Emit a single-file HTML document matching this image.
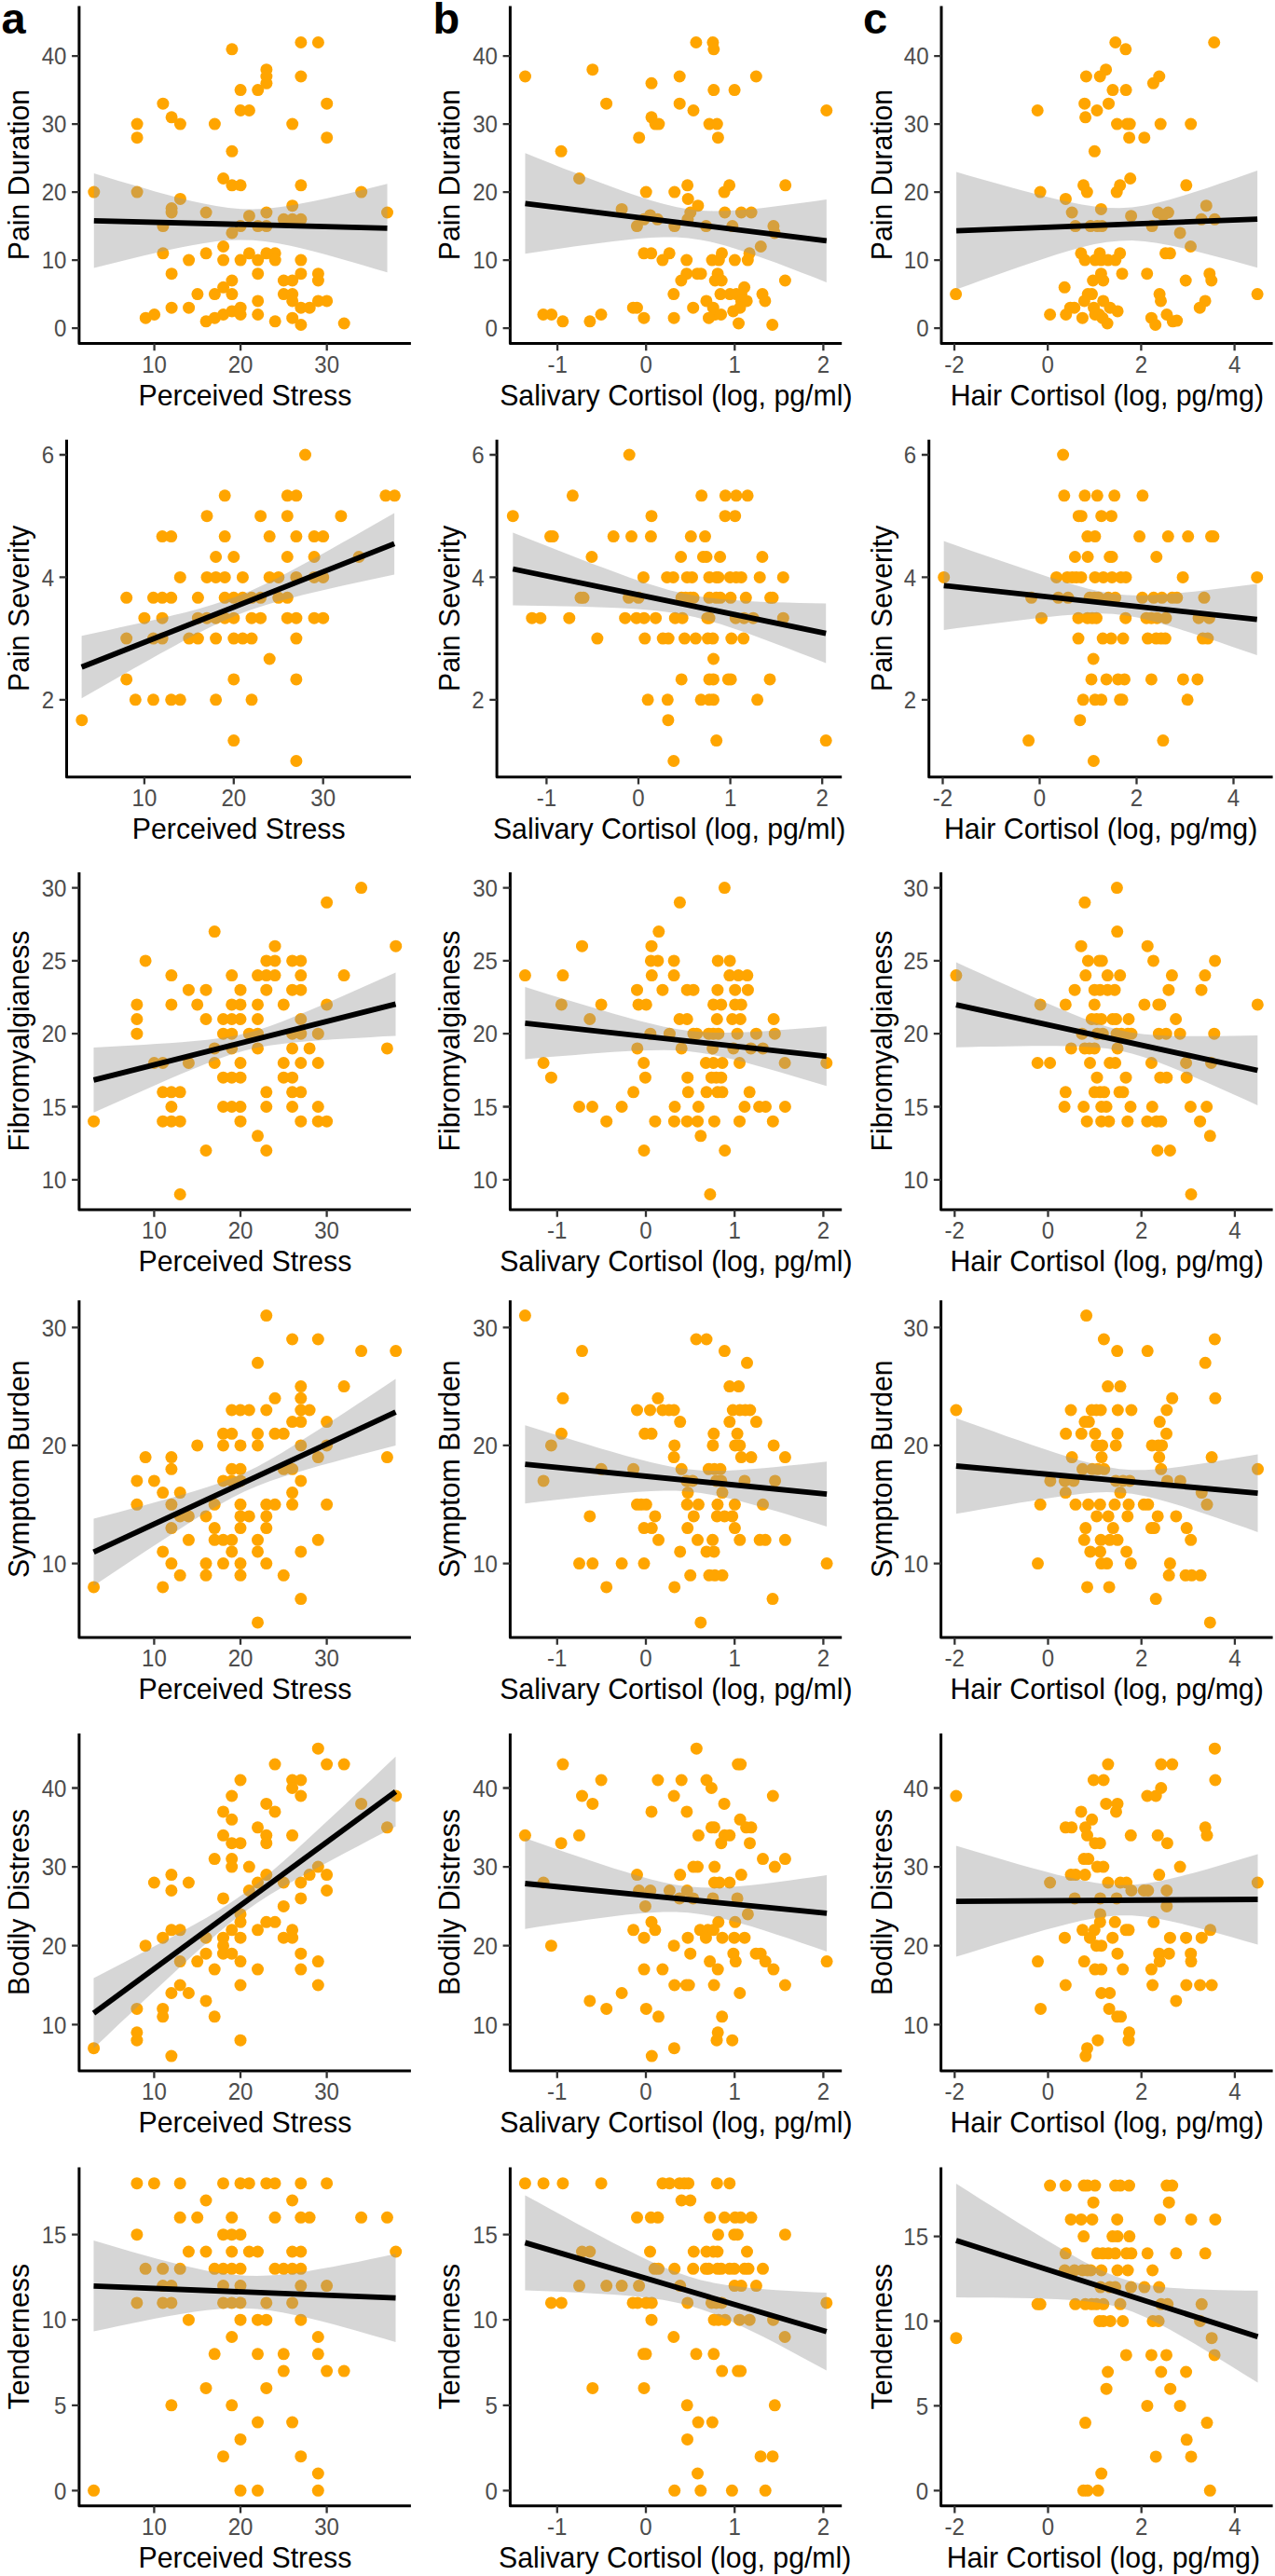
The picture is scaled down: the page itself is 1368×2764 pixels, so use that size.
<!DOCTYPE html>
<html lang="en">
<head>
<meta charset="utf-8">
<title>Figure</title>
<style>
html,body{margin:0;padding:0;background:#fff;}
body{width:1368px;height:2764px;overflow:hidden;}
svg{display:block;font-family:"Liberation Sans",sans-serif;}
</style>
</head>
<body>

<svg width="1368" height="2764" viewBox="0 0 1368 2764">
<rect width="1368" height="2764" fill="#fff"/>
<g>
<g fill="#FFA500">
<circle cx="100.8" cy="206.1" r="6.5"/>
<circle cx="147.1" cy="133.1" r="6.5"/>
<circle cx="147.1" cy="147.7" r="6.5"/>
<circle cx="147.1" cy="206.1" r="6.5"/>
<circle cx="156.3" cy="341.2" r="6.5"/>
<circle cx="165.6" cy="337.5" r="6.5"/>
<circle cx="174.9" cy="111.2" r="6.5"/>
<circle cx="174.9" cy="242.6" r="6.5"/>
<circle cx="174.9" cy="271.8" r="6.5"/>
<circle cx="184.1" cy="125.8" r="6.5"/>
<circle cx="184.1" cy="223.6" r="6.5"/>
<circle cx="184.1" cy="228" r="6.5"/>
<circle cx="184.1" cy="293.7" r="6.5"/>
<circle cx="184.1" cy="330.2" r="6.5"/>
<circle cx="193.4" cy="133.1" r="6.5"/>
<circle cx="193.4" cy="213.4" r="6.5"/>
<circle cx="202.6" cy="279.1" r="6.5"/>
<circle cx="202.6" cy="330.2" r="6.5"/>
<circle cx="211.9" cy="315.6" r="6.5"/>
<circle cx="221.1" cy="228" r="6.5"/>
<circle cx="221.1" cy="271.8" r="6.5"/>
<circle cx="221.1" cy="344.8" r="6.5"/>
<circle cx="230.4" cy="133.1" r="6.5"/>
<circle cx="230.4" cy="315.6" r="6.5"/>
<circle cx="230.4" cy="341.2" r="6.5"/>
<circle cx="239.6" cy="191.5" r="6.5"/>
<circle cx="239.6" cy="264.5" r="6.5"/>
<circle cx="239.6" cy="279.1" r="6.5"/>
<circle cx="239.6" cy="308.3" r="6.5"/>
<circle cx="239.6" cy="337.5" r="6.5"/>
<circle cx="248.9" cy="52.8" r="6.5"/>
<circle cx="248.9" cy="162.3" r="6.5"/>
<circle cx="248.9" cy="198.8" r="6.5"/>
<circle cx="248.9" cy="249.9" r="6.5"/>
<circle cx="248.9" cy="301" r="6.5"/>
<circle cx="248.9" cy="315.6" r="6.5"/>
<circle cx="248.9" cy="333.9" r="6.5"/>
<circle cx="258.1" cy="96.6" r="6.5"/>
<circle cx="258.1" cy="118.5" r="6.5"/>
<circle cx="258.1" cy="198.8" r="6.5"/>
<circle cx="258.1" cy="242.6" r="6.5"/>
<circle cx="258.1" cy="279.1" r="6.5"/>
<circle cx="258.1" cy="330.2" r="6.5"/>
<circle cx="258.1" cy="337.5" r="6.5"/>
<circle cx="267.4" cy="118.5" r="6.5"/>
<circle cx="267.4" cy="231.7" r="6.5"/>
<circle cx="267.4" cy="271.8" r="6.5"/>
<circle cx="276.7" cy="96.6" r="6.5"/>
<circle cx="276.7" cy="242.6" r="6.5"/>
<circle cx="276.7" cy="279.1" r="6.5"/>
<circle cx="276.7" cy="293.7" r="6.5"/>
<circle cx="276.7" cy="322.9" r="6.5"/>
<circle cx="276.7" cy="337.5" r="6.5"/>
<circle cx="285.9" cy="74.7" r="6.5"/>
<circle cx="285.9" cy="82" r="6.5"/>
<circle cx="285.9" cy="89.3" r="6.5"/>
<circle cx="285.9" cy="228" r="6.5"/>
<circle cx="285.9" cy="242.6" r="6.5"/>
<circle cx="285.9" cy="271.8" r="6.5"/>
<circle cx="295.2" cy="271.8" r="6.5"/>
<circle cx="295.2" cy="279.1" r="6.5"/>
<circle cx="295.2" cy="344.8" r="6.5"/>
<circle cx="304.4" cy="235.3" r="6.5"/>
<circle cx="304.4" cy="301" r="6.5"/>
<circle cx="304.4" cy="315.6" r="6.5"/>
<circle cx="313.7" cy="133.1" r="6.5"/>
<circle cx="313.7" cy="220.7" r="6.5"/>
<circle cx="313.7" cy="235.3" r="6.5"/>
<circle cx="313.7" cy="301" r="6.5"/>
<circle cx="313.7" cy="315.6" r="6.5"/>
<circle cx="313.7" cy="322.9" r="6.5"/>
<circle cx="313.7" cy="341.2" r="6.5"/>
<circle cx="322.9" cy="45.5" r="6.5"/>
<circle cx="322.9" cy="82" r="6.5"/>
<circle cx="322.9" cy="198.8" r="6.5"/>
<circle cx="322.9" cy="235.3" r="6.5"/>
<circle cx="322.9" cy="279.1" r="6.5"/>
<circle cx="322.9" cy="293.7" r="6.5"/>
<circle cx="322.9" cy="330.2" r="6.5"/>
<circle cx="322.9" cy="348.5" r="6.5"/>
<circle cx="332.2" cy="330.2" r="6.5"/>
<circle cx="341.4" cy="45.5" r="6.5"/>
<circle cx="341.4" cy="293.7" r="6.5"/>
<circle cx="341.4" cy="301" r="6.5"/>
<circle cx="341.4" cy="322.9" r="6.5"/>
<circle cx="350.7" cy="111.2" r="6.5"/>
<circle cx="350.7" cy="147.7" r="6.5"/>
<circle cx="350.7" cy="322.9" r="6.5"/>
<circle cx="369.2" cy="347" r="6.5"/>
<circle cx="387.7" cy="206.1" r="6.5"/>
<circle cx="415.5" cy="228" r="6.5"/>
</g>
<path d="M100.8 186.1 L113.9 190 L127 193.9 L140.1 197.8 L153.3 201.6 L166.4 205.4 L179.5 209 L192.6 212.4 L205.7 215.7 L218.8 218.6 L231.9 221.1 L245 223 L258.1 224.2 L271.3 224.5 L284.4 223.9 L297.5 222.6 L310.6 220.7 L323.7 218.3 L336.8 215.7 L349.9 212.9 L363 210 L376.2 206.9 L389.3 203.8 L402.4 200.5 L415.5 197.3 L415.5 292.3 L402.4 288.4 L389.3 284.5 L376.2 280.7 L363 276.9 L349.9 273.3 L336.8 269.8 L323.7 266.5 L310.6 263.6 L297.5 261 L284.4 259 L271.3 257.7 L258.1 257.4 L245 257.8 L231.9 259.1 L218.8 260.9 L205.7 263.2 L192.6 265.8 L179.5 268.6 L166.4 271.5 L153.3 274.6 L140.1 277.7 L127 280.9 L113.9 284.2 L100.8 287.5Z" fill="#999" fill-opacity="0.4"/>
<line x1="100.8" y1="236.8" x2="415.5" y2="244.8" stroke="#000" stroke-width="5.8"/>
<path d="M84.9 6.4V368.5H440.9" fill="none" stroke="#000" stroke-width="3.0" stroke-linejoin="round"/>
<path d="M165.6 368.5v7.8M258.1 368.5v7.8M350.7 368.5v7.8M84.9 352.1h-7.8M84.9 279.1h-7.8M84.9 206.1h-7.8M84.9 133.1h-7.8M84.9 60.1h-7.8" fill="none" stroke="#333" stroke-width="2.3"/>
<g font-size="26.2" fill="#4D4D4D">
<text transform="translate(165.6 399.7) scale(0.918 1)" text-anchor="middle">10</text>
<text transform="translate(258.1 399.7) scale(0.918 1)" text-anchor="middle">20</text>
<text transform="translate(350.7 399.7) scale(0.918 1)" text-anchor="middle">30</text>
<text transform="translate(71.4 361.3) scale(0.918 1)" text-anchor="end">0</text>
<text transform="translate(71.4 288.3) scale(0.918 1)" text-anchor="end">10</text>
<text transform="translate(71.4 215.3) scale(0.918 1)" text-anchor="end">20</text>
<text transform="translate(71.4 142.3) scale(0.918 1)" text-anchor="end">30</text>
<text transform="translate(71.4 69.3) scale(0.918 1)" text-anchor="end">40</text>
</g>
<text transform="translate(262.9 434.5) scale(0.943 1)" text-anchor="middle" font-size="32.1" fill="#000">Perceived Stress</text>
<text transform="translate(31 187.5) rotate(-90) scale(0.943 1)" text-anchor="middle" font-size="32.1" fill="#000">Pain Duration</text>
</g>
<g>
<g fill="#FFA500">
<circle cx="746.9" cy="45.5" r="6.5"/>
<circle cx="764.9" cy="45.5" r="6.5"/>
<circle cx="765.8" cy="52.8" r="6.5"/>
<circle cx="563.5" cy="82" r="6.5"/>
<circle cx="635.8" cy="74.7" r="6.5"/>
<circle cx="729.2" cy="82" r="6.5"/>
<circle cx="811.3" cy="82" r="6.5"/>
<circle cx="699" cy="89.3" r="6.5"/>
<circle cx="765.8" cy="96.6" r="6.5"/>
<circle cx="788.1" cy="96.6" r="6.5"/>
<circle cx="650.6" cy="111.2" r="6.5"/>
<circle cx="729.2" cy="111.2" r="6.5"/>
<circle cx="744" cy="118.5" r="6.5"/>
<circle cx="886.8" cy="118.5" r="6.5"/>
<circle cx="699" cy="125.8" r="6.5"/>
<circle cx="703.1" cy="133.1" r="6.5"/>
<circle cx="706.9" cy="133.1" r="6.5"/>
<circle cx="761.1" cy="133.1" r="6.5"/>
<circle cx="769.3" cy="133.1" r="6.5"/>
<circle cx="685.7" cy="147.7" r="6.5"/>
<circle cx="770.4" cy="147.7" r="6.5"/>
<circle cx="602.1" cy="162.3" r="6.5"/>
<circle cx="621.5" cy="191.5" r="6.5"/>
<circle cx="693.2" cy="206.1" r="6.5"/>
<circle cx="723.7" cy="206.1" r="6.5"/>
<circle cx="737.6" cy="198.8" r="6.5"/>
<circle cx="782.6" cy="198.8" r="6.5"/>
<circle cx="842.7" cy="198.8" r="6.5"/>
<circle cx="777.1" cy="206.1" r="6.5"/>
<circle cx="738.2" cy="213.4" r="6.5"/>
<circle cx="748.9" cy="220.7" r="6.5"/>
<circle cx="667.1" cy="224.4" r="6.5"/>
<circle cx="697.6" cy="230.9" r="6.5"/>
<circle cx="740.8" cy="228" r="6.5"/>
<circle cx="777.7" cy="228" r="6.5"/>
<circle cx="795.4" cy="228" r="6.5"/>
<circle cx="806.1" cy="228" r="6.5"/>
<circle cx="690.9" cy="235.3" r="6.5"/>
<circle cx="705.4" cy="235.3" r="6.5"/>
<circle cx="737.9" cy="235.3" r="6.5"/>
<circle cx="683.4" cy="242.6" r="6.5"/>
<circle cx="723.7" cy="242.6" r="6.5"/>
<circle cx="757.6" cy="242.6" r="6.5"/>
<circle cx="785.8" cy="242.6" r="6.5"/>
<circle cx="829.9" cy="242.6" r="6.5"/>
<circle cx="831.1" cy="249.9" r="6.5"/>
<circle cx="816.3" cy="264.5" r="6.5"/>
<circle cx="690.9" cy="271.8" r="6.5"/>
<circle cx="698.7" cy="271.8" r="6.5"/>
<circle cx="718.2" cy="271.8" r="6.5"/>
<circle cx="774.5" cy="271.8" r="6.5"/>
<circle cx="804.1" cy="271.8" r="6.5"/>
<circle cx="710.9" cy="279.1" r="6.5"/>
<circle cx="736.7" cy="279.1" r="6.5"/>
<circle cx="764" cy="279.1" r="6.5"/>
<circle cx="771.3" cy="279.1" r="6.5"/>
<circle cx="788.4" cy="279.1" r="6.5"/>
<circle cx="802.3" cy="279.1" r="6.5"/>
<circle cx="736.7" cy="293.7" r="6.5"/>
<circle cx="748.1" cy="293.7" r="6.5"/>
<circle cx="752.1" cy="293.7" r="6.5"/>
<circle cx="770.1" cy="293.7" r="6.5"/>
<circle cx="730.9" cy="301" r="6.5"/>
<circle cx="767.2" cy="301" r="6.5"/>
<circle cx="774.2" cy="301" r="6.5"/>
<circle cx="842.4" cy="301" r="6.5"/>
<circle cx="798.6" cy="308.3" r="6.5"/>
<circle cx="722.8" cy="315.6" r="6.5"/>
<circle cx="773" cy="315.6" r="6.5"/>
<circle cx="783.2" cy="315.6" r="6.5"/>
<circle cx="790.1" cy="315.6" r="6.5"/>
<circle cx="795.4" cy="315.6" r="6.5"/>
<circle cx="818" cy="315.6" r="6.5"/>
<circle cx="757.9" cy="322.9" r="6.5"/>
<circle cx="795.4" cy="322.9" r="6.5"/>
<circle cx="801.2" cy="322.9" r="6.5"/>
<circle cx="820.9" cy="322.9" r="6.5"/>
<circle cx="679.3" cy="330.2" r="6.5"/>
<circle cx="683.4" cy="330.2" r="6.5"/>
<circle cx="743.7" cy="330.2" r="6.5"/>
<circle cx="765.2" cy="330.2" r="6.5"/>
<circle cx="793.9" cy="330.2" r="6.5"/>
<circle cx="786.7" cy="333.9" r="6.5"/>
<circle cx="582.9" cy="337.5" r="6.5"/>
<circle cx="591.7" cy="337.5" r="6.5"/>
<circle cx="645" cy="337.5" r="6.5"/>
<circle cx="767.2" cy="337.5" r="6.5"/>
<circle cx="773.6" cy="337.5" r="6.5"/>
<circle cx="690.9" cy="341.2" r="6.5"/>
<circle cx="723.1" cy="341.2" r="6.5"/>
<circle cx="760.5" cy="341.2" r="6.5"/>
<circle cx="603.8" cy="344.8" r="6.5"/>
<circle cx="632.9" cy="344.8" r="6.5"/>
<circle cx="792.5" cy="347" r="6.5"/>
<circle cx="828.7" cy="348.5" r="6.5"/>
</g>
<path d="M563.5 164.3 L577 169.7 L590.4 175 L603.9 180.4 L617.4 185.6 L630.9 190.9 L644.3 196 L657.8 201 L671.3 205.9 L684.7 210.6 L698.2 214.9 L711.7 218.8 L725.1 222.1 L738.6 224.5 L752.1 225.9 L765.6 226.5 L779 226.3 L792.5 225.5 L806 224.4 L819.4 222.9 L832.9 221.3 L846.4 219.6 L859.9 217.8 L873.3 215.9 L886.8 213.9 L886.8 302.9 L873.3 297.6 L859.9 292.4 L846.4 287.2 L832.9 282.1 L819.4 277.2 L806 272.4 L792.5 267.9 L779 263.8 L765.6 260.2 L752.1 257.4 L738.6 255.6 L725.1 254.6 L711.7 254.6 L698.2 255.1 L684.7 256.1 L671.3 257.4 L657.8 259 L644.3 260.7 L630.9 262.4 L617.4 264.3 L603.9 266.3 L590.4 268.2 L577 270.3 L563.5 272.3Z" fill="#999" fill-opacity="0.4"/>
<line x1="563.5" y1="218.3" x2="886.8" y2="258.4" stroke="#000" stroke-width="5.8"/>
<path d="M547.4 6.4V368.5H903.2" fill="none" stroke="#000" stroke-width="3.0" stroke-linejoin="round"/>
<path d="M598.1 368.5v7.8M693.2 368.5v7.8M788.3 368.5v7.8M883.4 368.5v7.8M547.4 352.1h-7.8M547.4 279.1h-7.8M547.4 206.1h-7.8M547.4 133.1h-7.8M547.4 60.1h-7.8" fill="none" stroke="#333" stroke-width="2.3"/>
<g font-size="26.2" fill="#4D4D4D">
<text transform="translate(598.1 399.7) scale(0.918 1)" text-anchor="middle">-1</text>
<text transform="translate(693.2 399.7) scale(0.918 1)" text-anchor="middle">0</text>
<text transform="translate(788.3 399.7) scale(0.918 1)" text-anchor="middle">1</text>
<text transform="translate(883.4 399.7) scale(0.918 1)" text-anchor="middle">2</text>
<text transform="translate(533.9 361.3) scale(0.918 1)" text-anchor="end">0</text>
<text transform="translate(533.9 288.3) scale(0.918 1)" text-anchor="end">10</text>
<text transform="translate(533.9 215.3) scale(0.918 1)" text-anchor="end">20</text>
<text transform="translate(533.9 142.3) scale(0.918 1)" text-anchor="end">30</text>
<text transform="translate(533.9 69.3) scale(0.918 1)" text-anchor="end">40</text>
</g>
<text transform="translate(725.3 434.5) scale(0.943 1)" text-anchor="middle" font-size="32.1" fill="#000">Salivary Cortisol (log, pg/ml)</text>
<text transform="translate(492.6 187.5) rotate(-90) scale(0.943 1)" text-anchor="middle" font-size="32.1" fill="#000">Pain Duration</text>
</g>
<g>
<g fill="#FFA500">
<circle cx="1196.8" cy="45.5" r="6.5"/>
<circle cx="1207.8" cy="52.8" r="6.5"/>
<circle cx="1302.7" cy="45.5" r="6.5"/>
<circle cx="1186.6" cy="74.7" r="6.5"/>
<circle cx="1165.4" cy="82" r="6.5"/>
<circle cx="1180.2" cy="82" r="6.5"/>
<circle cx="1243.8" cy="82" r="6.5"/>
<circle cx="1237.4" cy="89.3" r="6.5"/>
<circle cx="1193.9" cy="96.6" r="6.5"/>
<circle cx="1208.1" cy="96.6" r="6.5"/>
<circle cx="1163.7" cy="111.2" r="6.5"/>
<circle cx="1189.5" cy="111.2" r="6.5"/>
<circle cx="1113.2" cy="118.5" r="6.5"/>
<circle cx="1177" cy="118.5" r="6.5"/>
<circle cx="1164.6" cy="125.8" r="6.5"/>
<circle cx="1198.5" cy="133.1" r="6.5"/>
<circle cx="1209.3" cy="133.1" r="6.5"/>
<circle cx="1212.2" cy="133.1" r="6.5"/>
<circle cx="1245.2" cy="133.1" r="6.5"/>
<circle cx="1277.7" cy="133.1" r="6.5"/>
<circle cx="1211.6" cy="147.7" r="6.5"/>
<circle cx="1227.8" cy="147.7" r="6.5"/>
<circle cx="1174.4" cy="162.3" r="6.5"/>
<circle cx="1212.7" cy="191.5" r="6.5"/>
<circle cx="1162.5" cy="198.8" r="6.5"/>
<circle cx="1201.7" cy="198.8" r="6.5"/>
<circle cx="1272.8" cy="198.8" r="6.5"/>
<circle cx="1116.1" cy="206.1" r="6.5"/>
<circle cx="1166.3" cy="206.1" r="6.5"/>
<circle cx="1198.2" cy="206.1" r="6.5"/>
<circle cx="1143.4" cy="213.4" r="6.5"/>
<circle cx="1294.3" cy="220.7" r="6.5"/>
<circle cx="1150.1" cy="228" r="6.5"/>
<circle cx="1181.4" cy="224.4" r="6.5"/>
<circle cx="1213.6" cy="231.7" r="6.5"/>
<circle cx="1242.6" cy="228" r="6.5"/>
<circle cx="1253.4" cy="228" r="6.5"/>
<circle cx="1248.1" cy="230.9" r="6.5"/>
<circle cx="1289.1" cy="235.3" r="6.5"/>
<circle cx="1303.3" cy="235.3" r="6.5"/>
<circle cx="1153.8" cy="242.6" r="6.5"/>
<circle cx="1170.1" cy="242.6" r="6.5"/>
<circle cx="1177.3" cy="242.6" r="6.5"/>
<circle cx="1182.3" cy="242.6" r="6.5"/>
<circle cx="1236" cy="242.6" r="6.5"/>
<circle cx="1266.1" cy="249.9" r="6.5"/>
<circle cx="1277.5" cy="264.5" r="6.5"/>
<circle cx="1159.9" cy="271.8" r="6.5"/>
<circle cx="1180" cy="271.8" r="6.5"/>
<circle cx="1201.7" cy="271.8" r="6.5"/>
<circle cx="1250.5" cy="271.8" r="6.5"/>
<circle cx="1255.4" cy="271.8" r="6.5"/>
<circle cx="1164" cy="279.1" r="6.5"/>
<circle cx="1175" cy="279.1" r="6.5"/>
<circle cx="1181.4" cy="279.1" r="6.5"/>
<circle cx="1188.9" cy="279.1" r="6.5"/>
<circle cx="1196.8" cy="279.1" r="6.5"/>
<circle cx="1181.4" cy="293.7" r="6.5"/>
<circle cx="1204" cy="293.7" r="6.5"/>
<circle cx="1230.7" cy="293.7" r="6.5"/>
<circle cx="1297.8" cy="293.7" r="6.5"/>
<circle cx="1172.7" cy="301" r="6.5"/>
<circle cx="1183.7" cy="301" r="6.5"/>
<circle cx="1272.2" cy="301" r="6.5"/>
<circle cx="1299.8" cy="301" r="6.5"/>
<circle cx="1142.2" cy="308.3" r="6.5"/>
<circle cx="1025.6" cy="315.6" r="6.5"/>
<circle cx="1167.2" cy="315.6" r="6.5"/>
<circle cx="1171.5" cy="315.6" r="6.5"/>
<circle cx="1244.1" cy="315.6" r="6.5"/>
<circle cx="1349.1" cy="315.6" r="6.5"/>
<circle cx="1163.4" cy="322.9" r="6.5"/>
<circle cx="1183.7" cy="322.9" r="6.5"/>
<circle cx="1245.5" cy="322.9" r="6.5"/>
<circle cx="1293.1" cy="322.9" r="6.5"/>
<circle cx="1148.3" cy="330.2" r="6.5"/>
<circle cx="1152.7" cy="330.2" r="6.5"/>
<circle cx="1173.6" cy="330.2" r="6.5"/>
<circle cx="1191" cy="330.2" r="6.5"/>
<circle cx="1287.3" cy="330.2" r="6.5"/>
<circle cx="1199.1" cy="333.9" r="6.5"/>
<circle cx="1126.6" cy="337.5" r="6.5"/>
<circle cx="1143.7" cy="337.5" r="6.5"/>
<circle cx="1175" cy="337.5" r="6.5"/>
<circle cx="1179.4" cy="337.5" r="6.5"/>
<circle cx="1251.9" cy="337.5" r="6.5"/>
<circle cx="1161.4" cy="341.2" r="6.5"/>
<circle cx="1182.9" cy="341.2" r="6.5"/>
<circle cx="1235.4" cy="341.2" r="6.5"/>
<circle cx="1258.3" cy="344.8" r="6.5"/>
<circle cx="1262.7" cy="344.1" r="6.5"/>
<circle cx="1188.1" cy="347" r="6.5"/>
<circle cx="1239.7" cy="348.5" r="6.5"/>
</g>
<path d="M1026.1 184.6 L1039.6 188.5 L1053 192.3 L1066.5 196.1 L1079.9 199.8 L1093.4 203.5 L1106.8 207 L1120.3 210.5 L1133.8 213.8 L1147.2 216.8 L1160.7 219.5 L1174.1 221.6 L1187.6 223 L1201.1 223.3 L1214.5 222.5 L1228 220.5 L1241.4 217.7 L1254.9 214.2 L1268.3 210.3 L1281.8 206.1 L1295.3 201.7 L1308.7 197.1 L1322.2 192.4 L1335.6 187.7 L1349.1 182.9 L1349.1 287.3 L1335.6 283.5 L1322.2 279.8 L1308.7 276.2 L1295.3 272.7 L1281.8 269.3 L1268.3 266.1 L1254.9 263.3 L1241.4 260.8 L1228 259 L1214.5 258.1 L1201.1 258.4 L1187.6 259.7 L1174.1 262.1 L1160.7 265.3 L1147.2 269 L1133.8 273.1 L1120.3 277.4 L1106.8 281.9 L1093.4 286.5 L1079.9 291.2 L1066.5 296 L1053 300.8 L1039.6 305.7 L1026.1 310.6Z" fill="#999" fill-opacity="0.4"/>
<line x1="1026.1" y1="247.6" x2="1349.1" y2="235.1" stroke="#000" stroke-width="5.8"/>
<path d="M1010 6.4V368.5H1365.6" fill="none" stroke="#000" stroke-width="3.0" stroke-linejoin="round"/>
<path d="M1024 368.5v7.8M1124.2 368.5v7.8M1224.4 368.5v7.8M1324.6 368.5v7.8M1010 352.1h-7.8M1010 279.1h-7.8M1010 206.1h-7.8M1010 133.1h-7.8M1010 60.1h-7.8" fill="none" stroke="#333" stroke-width="2.3"/>
<g font-size="26.2" fill="#4D4D4D">
<text transform="translate(1024 399.7) scale(0.918 1)" text-anchor="middle">-2</text>
<text transform="translate(1124.2 399.7) scale(0.918 1)" text-anchor="middle">0</text>
<text transform="translate(1224.4 399.7) scale(0.918 1)" text-anchor="middle">2</text>
<text transform="translate(1324.6 399.7) scale(0.918 1)" text-anchor="middle">4</text>
<text transform="translate(996.5 361.3) scale(0.918 1)" text-anchor="end">0</text>
<text transform="translate(996.5 288.3) scale(0.918 1)" text-anchor="end">10</text>
<text transform="translate(996.5 215.3) scale(0.918 1)" text-anchor="end">20</text>
<text transform="translate(996.5 142.3) scale(0.918 1)" text-anchor="end">30</text>
<text transform="translate(996.5 69.3) scale(0.918 1)" text-anchor="end">40</text>
</g>
<text transform="translate(1187.8 434.5) scale(0.943 1)" text-anchor="middle" font-size="32.1" fill="#000">Hair Cortisol (log, pg/mg)</text>
<text transform="translate(956.5 187.5) rotate(-90) scale(0.943 1)" text-anchor="middle" font-size="32.1" fill="#000">Pain Duration</text>
</g>
<g>
<g fill="#FFA500">
<circle cx="327.5" cy="488" r="6.5"/>
<circle cx="241.2" cy="531.8" r="6.5"/>
<circle cx="308.3" cy="531.8" r="6.5"/>
<circle cx="317.9" cy="531.8" r="6.5"/>
<circle cx="413.8" cy="531.8" r="6.5"/>
<circle cx="423.4" cy="531.8" r="6.5"/>
<circle cx="222" cy="553.7" r="6.5"/>
<circle cx="279.6" cy="553.7" r="6.5"/>
<circle cx="308.3" cy="553.7" r="6.5"/>
<circle cx="365.9" cy="553.7" r="6.5"/>
<circle cx="174.1" cy="575.6" r="6.5"/>
<circle cx="183.7" cy="575.6" r="6.5"/>
<circle cx="241.2" cy="575.6" r="6.5"/>
<circle cx="289.2" cy="575.6" r="6.5"/>
<circle cx="317.9" cy="575.6" r="6.5"/>
<circle cx="337.1" cy="575.6" r="6.5"/>
<circle cx="346.7" cy="575.6" r="6.5"/>
<circle cx="231.6" cy="597.5" r="6.5"/>
<circle cx="250.8" cy="597.5" r="6.5"/>
<circle cx="308.3" cy="597.5" r="6.5"/>
<circle cx="337.1" cy="597.5" r="6.5"/>
<circle cx="385.1" cy="597.5" r="6.5"/>
<circle cx="193.3" cy="619.4" r="6.5"/>
<circle cx="222" cy="619.4" r="6.5"/>
<circle cx="231.6" cy="619.4" r="6.5"/>
<circle cx="241.2" cy="619.4" r="6.5"/>
<circle cx="260.4" cy="619.4" r="6.5"/>
<circle cx="289.2" cy="619.4" r="6.5"/>
<circle cx="298.8" cy="619.4" r="6.5"/>
<circle cx="317.9" cy="619.4" r="6.5"/>
<circle cx="337.1" cy="619.4" r="6.5"/>
<circle cx="346.7" cy="619.4" r="6.5"/>
<circle cx="135.7" cy="641.3" r="6.5"/>
<circle cx="164.5" cy="641.3" r="6.5"/>
<circle cx="174.1" cy="641.3" r="6.5"/>
<circle cx="183.7" cy="641.3" r="6.5"/>
<circle cx="212.4" cy="641.3" r="6.5"/>
<circle cx="241.2" cy="641.3" r="6.5"/>
<circle cx="250.8" cy="641.3" r="6.5"/>
<circle cx="260.4" cy="641.3" r="6.5"/>
<circle cx="270" cy="641.3" r="6.5"/>
<circle cx="279.6" cy="641.3" r="6.5"/>
<circle cx="298.8" cy="641.3" r="6.5"/>
<circle cx="308.3" cy="641.3" r="6.5"/>
<circle cx="154.9" cy="663.2" r="6.5"/>
<circle cx="174.1" cy="663.2" r="6.5"/>
<circle cx="212.4" cy="663.2" r="6.5"/>
<circle cx="222" cy="663.2" r="6.5"/>
<circle cx="231.6" cy="663.2" r="6.5"/>
<circle cx="241.2" cy="663.2" r="6.5"/>
<circle cx="250.8" cy="663.2" r="6.5"/>
<circle cx="270" cy="663.2" r="6.5"/>
<circle cx="279.6" cy="663.2" r="6.5"/>
<circle cx="308.3" cy="663.2" r="6.5"/>
<circle cx="317.9" cy="663.2" r="6.5"/>
<circle cx="337.1" cy="663.2" r="6.5"/>
<circle cx="346.7" cy="663.2" r="6.5"/>
<circle cx="135.7" cy="685.1" r="6.5"/>
<circle cx="164.5" cy="685.1" r="6.5"/>
<circle cx="174.1" cy="685.1" r="6.5"/>
<circle cx="202.9" cy="685.1" r="6.5"/>
<circle cx="212.4" cy="685.1" r="6.5"/>
<circle cx="231.6" cy="685.1" r="6.5"/>
<circle cx="250.8" cy="685.1" r="6.5"/>
<circle cx="260.4" cy="685.1" r="6.5"/>
<circle cx="270" cy="685.1" r="6.5"/>
<circle cx="317.9" cy="685.1" r="6.5"/>
<circle cx="289.2" cy="707" r="6.5"/>
<circle cx="135.7" cy="728.9" r="6.5"/>
<circle cx="250.8" cy="728.9" r="6.5"/>
<circle cx="317.9" cy="728.9" r="6.5"/>
<circle cx="145.3" cy="750.8" r="6.5"/>
<circle cx="164.5" cy="750.8" r="6.5"/>
<circle cx="183.7" cy="750.8" r="6.5"/>
<circle cx="193.3" cy="750.8" r="6.5"/>
<circle cx="231.6" cy="750.8" r="6.5"/>
<circle cx="270" cy="750.8" r="6.5"/>
<circle cx="87.8" cy="772.7" r="6.5"/>
<circle cx="250.8" cy="794.6" r="6.5"/>
<circle cx="317.9" cy="816.5" r="6.5"/>
</g>
<path d="M87.6 682.2 L101.6 679.2 L115.6 676.2 L129.5 673.1 L143.5 670 L157.5 666.9 L171.5 663.7 L185.5 660.3 L199.4 656.9 L213.4 653.2 L227.4 649.1 L241.4 644.6 L255.3 639.5 L269.3 633.8 L283.3 627.3 L297.3 620.4 L311.3 613.1 L325.2 605.6 L339.2 598 L353.2 590.2 L367.2 582.3 L381.2 574.4 L395.1 566.4 L409.1 558.4 L423.1 550.4 L423.1 616.4 L409.1 619.4 L395.1 622.4 L381.2 625.5 L367.2 628.6 L353.2 631.8 L339.2 635 L325.2 638.3 L311.3 641.9 L297.3 645.6 L283.3 649.7 L269.3 654.3 L255.3 659.6 L241.4 665.5 L227.4 672 L213.4 679 L199.4 686.3 L185.5 693.9 L171.5 701.6 L157.5 709.4 L143.5 717.3 L129.5 725.2 L115.6 733.2 L101.6 741.2 L87.6 749.2Z" fill="#999" fill-opacity="0.4"/>
<line x1="87.6" y1="715.7" x2="423.1" y2="583.4" stroke="#000" stroke-width="5.8"/>
<path d="M71.5 471.7V833.7H440.9" fill="none" stroke="#000" stroke-width="3.0" stroke-linejoin="round"/>
<path d="M154.9 833.7v7.8M250.8 833.7v7.8M346.7 833.7v7.8M71.5 750.8h-7.8M71.5 619.4h-7.8M71.5 488h-7.8" fill="none" stroke="#333" stroke-width="2.3"/>
<g font-size="26.2" fill="#4D4D4D">
<text transform="translate(154.9 864.9) scale(0.918 1)" text-anchor="middle">10</text>
<text transform="translate(250.8 864.9) scale(0.918 1)" text-anchor="middle">20</text>
<text transform="translate(346.7 864.9) scale(0.918 1)" text-anchor="middle">30</text>
<text transform="translate(58 760) scale(0.918 1)" text-anchor="end">2</text>
<text transform="translate(58 628.6) scale(0.918 1)" text-anchor="end">4</text>
<text transform="translate(58 497.2) scale(0.918 1)" text-anchor="end">6</text>
</g>
<text transform="translate(256.2 899.7) scale(0.943 1)" text-anchor="middle" font-size="32.1" fill="#000">Perceived Stress</text>
<text transform="translate(31 652.8) rotate(-90) scale(0.943 1)" text-anchor="middle" font-size="32.1" fill="#000">Pain Severity</text>
</g>
<g>
<g fill="#FFA500">
<circle cx="675.2" cy="488" r="6.5"/>
<circle cx="614.4" cy="531.8" r="6.5"/>
<circle cx="752.7" cy="531.8" r="6.5"/>
<circle cx="778.3" cy="531.8" r="6.5"/>
<circle cx="789.9" cy="531.8" r="6.5"/>
<circle cx="802.1" cy="531.8" r="6.5"/>
<circle cx="550.3" cy="553.7" r="6.5"/>
<circle cx="699" cy="553.7" r="6.5"/>
<circle cx="778" cy="553.7" r="6.5"/>
<circle cx="788.7" cy="553.7" r="6.5"/>
<circle cx="590.5" cy="575.6" r="6.5"/>
<circle cx="593.2" cy="575.6" r="6.5"/>
<circle cx="658.2" cy="575.6" r="6.5"/>
<circle cx="677.5" cy="575.6" r="6.5"/>
<circle cx="698.4" cy="575.6" r="6.5"/>
<circle cx="741.3" cy="575.6" r="6.5"/>
<circle cx="756.5" cy="575.6" r="6.5"/>
<circle cx="634.9" cy="597.5" r="6.5"/>
<circle cx="730.6" cy="597.5" r="6.5"/>
<circle cx="754.4" cy="597.5" r="6.5"/>
<circle cx="758" cy="597.5" r="6.5"/>
<circle cx="772.6" cy="597.5" r="6.5"/>
<circle cx="817.9" cy="597.5" r="6.5"/>
<circle cx="690.4" cy="619.4" r="6.5"/>
<circle cx="715.7" cy="619.4" r="6.5"/>
<circle cx="722.3" cy="619.4" r="6.5"/>
<circle cx="737.2" cy="619.4" r="6.5"/>
<circle cx="742.5" cy="619.4" r="6.5"/>
<circle cx="761" cy="619.4" r="6.5"/>
<circle cx="768.5" cy="619.4" r="6.5"/>
<circle cx="770.8" cy="619.4" r="6.5"/>
<circle cx="783.4" cy="619.4" r="6.5"/>
<circle cx="789.9" cy="619.4" r="6.5"/>
<circle cx="795.3" cy="619.4" r="6.5"/>
<circle cx="815.2" cy="619.4" r="6.5"/>
<circle cx="840.3" cy="619.4" r="6.5"/>
<circle cx="623" cy="641.3" r="6.5"/>
<circle cx="626" cy="641.3" r="6.5"/>
<circle cx="674.6" cy="641.3" r="6.5"/>
<circle cx="685" cy="641.3" r="6.5"/>
<circle cx="731.2" cy="641.3" r="6.5"/>
<circle cx="735.7" cy="641.3" r="6.5"/>
<circle cx="741" cy="641.3" r="6.5"/>
<circle cx="744" cy="641.3" r="6.5"/>
<circle cx="761" cy="641.3" r="6.5"/>
<circle cx="768.5" cy="641.3" r="6.5"/>
<circle cx="772.9" cy="641.3" r="6.5"/>
<circle cx="783.9" cy="641.3" r="6.5"/>
<circle cx="800.3" cy="641.3" r="6.5"/>
<circle cx="826.6" cy="641.3" r="6.5"/>
<circle cx="829" cy="641.3" r="6.5"/>
<circle cx="570.8" cy="663.2" r="6.5"/>
<circle cx="579.8" cy="663.2" r="6.5"/>
<circle cx="610.8" cy="663.2" r="6.5"/>
<circle cx="670.7" cy="663.2" r="6.5"/>
<circle cx="682.9" cy="663.2" r="6.5"/>
<circle cx="691" cy="663.2" r="6.5"/>
<circle cx="703.5" cy="663.2" r="6.5"/>
<circle cx="724.3" cy="663.2" r="6.5"/>
<circle cx="732.1" cy="663.2" r="6.5"/>
<circle cx="758.9" cy="663.2" r="6.5"/>
<circle cx="761" cy="663.2" r="6.5"/>
<circle cx="789.3" cy="663.2" r="6.5"/>
<circle cx="798.3" cy="663.2" r="6.5"/>
<circle cx="808.1" cy="663.2" r="6.5"/>
<circle cx="840.3" cy="663.2" r="6.5"/>
<circle cx="640.9" cy="685.1" r="6.5"/>
<circle cx="691.8" cy="685.1" r="6.5"/>
<circle cx="711.2" cy="685.1" r="6.5"/>
<circle cx="717.2" cy="685.1" r="6.5"/>
<circle cx="734.5" cy="685.1" r="6.5"/>
<circle cx="746.4" cy="685.1" r="6.5"/>
<circle cx="759.5" cy="685.1" r="6.5"/>
<circle cx="764.9" cy="685.1" r="6.5"/>
<circle cx="784.8" cy="685.1" r="6.5"/>
<circle cx="797.7" cy="685.1" r="6.5"/>
<circle cx="765.5" cy="707" r="6.5"/>
<circle cx="731.2" cy="728.9" r="6.5"/>
<circle cx="761" cy="728.9" r="6.5"/>
<circle cx="765.5" cy="728.9" r="6.5"/>
<circle cx="781.3" cy="728.9" r="6.5"/>
<circle cx="784.2" cy="728.9" r="6.5"/>
<circle cx="826" cy="728.9" r="6.5"/>
<circle cx="695.1" cy="750.8" r="6.5"/>
<circle cx="716.3" cy="750.8" r="6.5"/>
<circle cx="752.1" cy="750.8" r="6.5"/>
<circle cx="761" cy="750.8" r="6.5"/>
<circle cx="765.5" cy="750.8" r="6.5"/>
<circle cx="812.6" cy="750.8" r="6.5"/>
<circle cx="716.9" cy="772.7" r="6.5"/>
<circle cx="768.7" cy="794.6" r="6.5"/>
<circle cx="886.2" cy="794.6" r="6.5"/>
<circle cx="722.8" cy="816.5" r="6.5"/>
</g>
<path d="M550.3 571.5 L564.3 577.1 L578.3 582.6 L592.3 588.1 L606.3 593.6 L620.3 599 L634.3 604.4 L648.3 609.6 L662.3 614.8 L676.3 619.9 L690.3 624.7 L704.3 629.1 L718.2 633.2 L732.2 636.6 L746.2 639.3 L760.2 641.4 L774.2 643 L788.2 644.1 L802.2 645 L816.2 645.7 L830.2 646.2 L844.2 646.6 L858.2 647 L872.2 647.3 L886.2 647.6 L886.2 711.6 L872.2 706.1 L858.2 700.7 L844.2 695.3 L830.2 690 L816.2 684.7 L802.2 679.6 L788.2 674.7 L774.2 670.1 L760.2 665.9 L746.2 662.3 L732.2 659.3 L718.2 656.9 L704.3 655.2 L690.3 653.9 L676.3 653 L662.3 652.2 L648.3 651.7 L634.3 651.2 L620.3 650.8 L606.3 650.5 L592.3 650.2 L578.3 649.9 L564.3 649.7 L550.3 649.5Z" fill="#999" fill-opacity="0.4"/>
<line x1="550.3" y1="610.5" x2="886.2" y2="679.6" stroke="#000" stroke-width="5.8"/>
<path d="M533.1 471.7V833.7H903.2" fill="none" stroke="#000" stroke-width="3.0" stroke-linejoin="round"/>
<path d="M586.4 833.7v7.8M685 833.7v7.8M783.6 833.7v7.8M882.2 833.7v7.8M533.1 750.8h-7.8M533.1 619.4h-7.8M533.1 488h-7.8" fill="none" stroke="#333" stroke-width="2.3"/>
<g font-size="26.2" fill="#4D4D4D">
<text transform="translate(586.4 864.9) scale(0.918 1)" text-anchor="middle">-1</text>
<text transform="translate(685 864.9) scale(0.918 1)" text-anchor="middle">0</text>
<text transform="translate(783.6 864.9) scale(0.918 1)" text-anchor="middle">1</text>
<text transform="translate(882.2 864.9) scale(0.918 1)" text-anchor="middle">2</text>
<text transform="translate(519.6 760) scale(0.918 1)" text-anchor="end">2</text>
<text transform="translate(519.6 628.6) scale(0.918 1)" text-anchor="end">4</text>
<text transform="translate(519.6 497.2) scale(0.918 1)" text-anchor="end">6</text>
</g>
<text transform="translate(718.1 899.7) scale(0.943 1)" text-anchor="middle" font-size="32.1" fill="#000">Salivary Cortisol (log, pg/ml)</text>
<text transform="translate(492.6 652.8) rotate(-90) scale(0.943 1)" text-anchor="middle" font-size="32.1" fill="#000">Pain Severity</text>
</g>
<g>
<g fill="#FFA500">
<circle cx="1140.6" cy="488" r="6.5"/>
<circle cx="1141.8" cy="531.8" r="6.5"/>
<circle cx="1163.9" cy="531.8" r="6.5"/>
<circle cx="1177.3" cy="531.8" r="6.5"/>
<circle cx="1195.7" cy="531.8" r="6.5"/>
<circle cx="1225.9" cy="531.8" r="6.5"/>
<circle cx="1157.3" cy="553.7" r="6.5"/>
<circle cx="1160.3" cy="553.7" r="6.5"/>
<circle cx="1181.7" cy="553.7" r="6.5"/>
<circle cx="1192.5" cy="553.7" r="6.5"/>
<circle cx="1166.8" cy="575.6" r="6.5"/>
<circle cx="1174.9" cy="575.6" r="6.5"/>
<circle cx="1222.6" cy="575.6" r="6.5"/>
<circle cx="1253.3" cy="575.6" r="6.5"/>
<circle cx="1274.7" cy="575.6" r="6.5"/>
<circle cx="1299.5" cy="575.6" r="6.5"/>
<circle cx="1301.9" cy="575.6" r="6.5"/>
<circle cx="1153.4" cy="597.5" r="6.5"/>
<circle cx="1167.1" cy="597.5" r="6.5"/>
<circle cx="1190.7" cy="597.5" r="6.5"/>
<circle cx="1193.1" cy="597.5" r="6.5"/>
<circle cx="1240.8" cy="597.5" r="6.5"/>
<circle cx="1012.7" cy="619.4" r="6.5"/>
<circle cx="1133.5" cy="619.4" r="6.5"/>
<circle cx="1145.1" cy="619.4" r="6.5"/>
<circle cx="1150.4" cy="619.4" r="6.5"/>
<circle cx="1154.9" cy="619.4" r="6.5"/>
<circle cx="1160" cy="619.4" r="6.5"/>
<circle cx="1174.9" cy="619.4" r="6.5"/>
<circle cx="1183.8" cy="619.4" r="6.5"/>
<circle cx="1193.1" cy="619.4" r="6.5"/>
<circle cx="1202.6" cy="619.4" r="6.5"/>
<circle cx="1208" cy="619.4" r="6.5"/>
<circle cx="1269.1" cy="619.4" r="6.5"/>
<circle cx="1348.7" cy="619.4" r="6.5"/>
<circle cx="1106.6" cy="641.3" r="6.5"/>
<circle cx="1135.5" cy="641.3" r="6.5"/>
<circle cx="1146" cy="641.3" r="6.5"/>
<circle cx="1169.2" cy="641.3" r="6.5"/>
<circle cx="1174.3" cy="641.3" r="6.5"/>
<circle cx="1178.8" cy="641.3" r="6.5"/>
<circle cx="1189.2" cy="641.3" r="6.5"/>
<circle cx="1196.6" cy="641.3" r="6.5"/>
<circle cx="1225.6" cy="641.3" r="6.5"/>
<circle cx="1237.8" cy="641.3" r="6.5"/>
<circle cx="1246.7" cy="641.3" r="6.5"/>
<circle cx="1257.7" cy="641.3" r="6.5"/>
<circle cx="1262.8" cy="641.3" r="6.5"/>
<circle cx="1292" cy="641.3" r="6.5"/>
<circle cx="1117.4" cy="663.2" r="6.5"/>
<circle cx="1157" cy="663.2" r="6.5"/>
<circle cx="1166.8" cy="663.2" r="6.5"/>
<circle cx="1171.9" cy="663.2" r="6.5"/>
<circle cx="1176.4" cy="663.2" r="6.5"/>
<circle cx="1207.7" cy="663.2" r="6.5"/>
<circle cx="1230" cy="663.2" r="6.5"/>
<circle cx="1235.4" cy="663.2" r="6.5"/>
<circle cx="1241.4" cy="663.2" r="6.5"/>
<circle cx="1250.9" cy="663.2" r="6.5"/>
<circle cx="1286.1" cy="663.2" r="6.5"/>
<circle cx="1297.4" cy="663.2" r="6.5"/>
<circle cx="1157" cy="685.1" r="6.5"/>
<circle cx="1183.2" cy="685.1" r="6.5"/>
<circle cx="1192.2" cy="685.1" r="6.5"/>
<circle cx="1205" cy="685.1" r="6.5"/>
<circle cx="1231.5" cy="685.1" r="6.5"/>
<circle cx="1240.5" cy="685.1" r="6.5"/>
<circle cx="1245.8" cy="685.1" r="6.5"/>
<circle cx="1250.3" cy="685.1" r="6.5"/>
<circle cx="1290.5" cy="685.1" r="6.5"/>
<circle cx="1295.9" cy="685.1" r="6.5"/>
<circle cx="1173.1" cy="707" r="6.5"/>
<circle cx="1171" cy="728.9" r="6.5"/>
<circle cx="1187.1" cy="728.9" r="6.5"/>
<circle cx="1199.6" cy="728.9" r="6.5"/>
<circle cx="1206.5" cy="728.9" r="6.5"/>
<circle cx="1235.4" cy="728.9" r="6.5"/>
<circle cx="1269.4" cy="728.9" r="6.5"/>
<circle cx="1284.9" cy="728.9" r="6.5"/>
<circle cx="1162.1" cy="750.8" r="6.5"/>
<circle cx="1174.9" cy="750.8" r="6.5"/>
<circle cx="1181.7" cy="750.8" r="6.5"/>
<circle cx="1201.7" cy="750.8" r="6.5"/>
<circle cx="1204.1" cy="750.8" r="6.5"/>
<circle cx="1274.1" cy="750.8" r="6.5"/>
<circle cx="1158.8" cy="772.7" r="6.5"/>
<circle cx="1103.6" cy="794.6" r="6.5"/>
<circle cx="1247.9" cy="794.6" r="6.5"/>
<circle cx="1173.4" cy="816.5" r="6.5"/>
</g>
<path d="M1012.7 580.6 L1026.7 585.5 L1040.7 590.4 L1054.7 595.2 L1068.7 600 L1082.7 604.8 L1096.7 609.6 L1110.7 614.3 L1124.7 618.9 L1138.7 623.3 L1152.7 627.5 L1166.7 631.4 L1180.7 634.8 L1194.7 637.2 L1208.7 638.6 L1222.7 639 L1236.7 638.6 L1250.7 637.6 L1264.7 636.4 L1278.7 634.9 L1292.7 633.4 L1306.7 631.7 L1320.7 630 L1334.7 628.2 L1348.7 626.4 L1348.7 703 L1334.7 698.2 L1320.7 693.4 L1306.7 688.6 L1292.7 683.9 L1278.7 679.3 L1264.7 674.8 L1250.7 670.5 L1236.7 666.6 L1222.7 663.1 L1208.7 660.4 L1194.7 658.8 L1180.7 658.2 L1166.7 658.5 L1152.7 659.4 L1138.7 660.6 L1124.7 662 L1110.7 663.6 L1096.7 665.2 L1082.7 666.9 L1068.7 668.7 L1054.7 670.5 L1040.7 672.3 L1026.7 674.1 L1012.7 676Z" fill="#999" fill-opacity="0.4"/>
<line x1="1012.7" y1="628.3" x2="1348.7" y2="664.7" stroke="#000" stroke-width="5.8"/>
<path d="M996.7 471.7V833.7H1365.6" fill="none" stroke="#000" stroke-width="3.0" stroke-linejoin="round"/>
<path d="M1011.5 833.7v7.8M1115.5 833.7v7.8M1219.5 833.7v7.8M1323.5 833.7v7.8M996.7 750.8h-7.8M996.7 619.4h-7.8M996.7 488h-7.8" fill="none" stroke="#333" stroke-width="2.3"/>
<g font-size="26.2" fill="#4D4D4D">
<text transform="translate(1011.5 864.9) scale(0.918 1)" text-anchor="middle">-2</text>
<text transform="translate(1115.5 864.9) scale(0.918 1)" text-anchor="middle">0</text>
<text transform="translate(1219.5 864.9) scale(0.918 1)" text-anchor="middle">2</text>
<text transform="translate(1323.5 864.9) scale(0.918 1)" text-anchor="middle">4</text>
<text transform="translate(983.2 760) scale(0.918 1)" text-anchor="end">2</text>
<text transform="translate(983.2 628.6) scale(0.918 1)" text-anchor="end">4</text>
<text transform="translate(983.2 497.2) scale(0.918 1)" text-anchor="end">6</text>
</g>
<text transform="translate(1181.1 899.7) scale(0.943 1)" text-anchor="middle" font-size="32.1" fill="#000">Hair Cortisol (log, pg/mg)</text>
<text transform="translate(956.5 652.8) rotate(-90) scale(0.943 1)" text-anchor="middle" font-size="32.1" fill="#000">Pain Severity</text>
</g>
<g>
<g fill="#FFA500">
<circle cx="387.6" cy="952.6" r="6.5"/>
<circle cx="350.6" cy="968.3" r="6.5"/>
<circle cx="230.2" cy="999.6" r="6.5"/>
<circle cx="295" cy="1015.2" r="6.5"/>
<circle cx="424.7" cy="1015.2" r="6.5"/>
<circle cx="156.1" cy="1030.9" r="6.5"/>
<circle cx="285.8" cy="1030.9" r="6.5"/>
<circle cx="295" cy="1030.9" r="6.5"/>
<circle cx="313.6" cy="1030.9" r="6.5"/>
<circle cx="322.8" cy="1030.9" r="6.5"/>
<circle cx="183.9" cy="1046.6" r="6.5"/>
<circle cx="248.7" cy="1046.6" r="6.5"/>
<circle cx="276.5" cy="1046.6" r="6.5"/>
<circle cx="285.8" cy="1046.6" r="6.5"/>
<circle cx="295" cy="1046.6" r="6.5"/>
<circle cx="322.8" cy="1046.6" r="6.5"/>
<circle cx="369.1" cy="1046.6" r="6.5"/>
<circle cx="202.4" cy="1062.2" r="6.5"/>
<circle cx="221" cy="1062.2" r="6.5"/>
<circle cx="258" cy="1062.2" r="6.5"/>
<circle cx="285.8" cy="1062.2" r="6.5"/>
<circle cx="313.6" cy="1062.2" r="6.5"/>
<circle cx="322.8" cy="1062.2" r="6.5"/>
<circle cx="146.9" cy="1077.9" r="6.5"/>
<circle cx="183.9" cy="1077.9" r="6.5"/>
<circle cx="211.7" cy="1077.9" r="6.5"/>
<circle cx="248.7" cy="1077.9" r="6.5"/>
<circle cx="258" cy="1077.9" r="6.5"/>
<circle cx="276.5" cy="1077.9" r="6.5"/>
<circle cx="304.3" cy="1077.9" r="6.5"/>
<circle cx="350.6" cy="1077.9" r="6.5"/>
<circle cx="146.9" cy="1093.5" r="6.5"/>
<circle cx="221" cy="1093.5" r="6.5"/>
<circle cx="239.5" cy="1093.5" r="6.5"/>
<circle cx="248.7" cy="1093.5" r="6.5"/>
<circle cx="258" cy="1093.5" r="6.5"/>
<circle cx="276.5" cy="1093.5" r="6.5"/>
<circle cx="322.8" cy="1093.5" r="6.5"/>
<circle cx="146.9" cy="1109.2" r="6.5"/>
<circle cx="239.5" cy="1109.2" r="6.5"/>
<circle cx="248.7" cy="1109.2" r="6.5"/>
<circle cx="267.3" cy="1109.2" r="6.5"/>
<circle cx="276.5" cy="1109.2" r="6.5"/>
<circle cx="313.6" cy="1109.2" r="6.5"/>
<circle cx="322.8" cy="1109.2" r="6.5"/>
<circle cx="341.3" cy="1109.2" r="6.5"/>
<circle cx="230.2" cy="1124.9" r="6.5"/>
<circle cx="248.7" cy="1124.9" r="6.5"/>
<circle cx="276.5" cy="1124.9" r="6.5"/>
<circle cx="313.6" cy="1124.9" r="6.5"/>
<circle cx="332.1" cy="1124.9" r="6.5"/>
<circle cx="415.4" cy="1124.9" r="6.5"/>
<circle cx="165.4" cy="1140.5" r="6.5"/>
<circle cx="174.7" cy="1140.5" r="6.5"/>
<circle cx="202.4" cy="1140.5" r="6.5"/>
<circle cx="230.2" cy="1140.5" r="6.5"/>
<circle cx="258" cy="1140.5" r="6.5"/>
<circle cx="304.3" cy="1140.5" r="6.5"/>
<circle cx="322.8" cy="1140.5" r="6.5"/>
<circle cx="341.3" cy="1140.5" r="6.5"/>
<circle cx="239.5" cy="1156.2" r="6.5"/>
<circle cx="248.7" cy="1156.2" r="6.5"/>
<circle cx="258" cy="1156.2" r="6.5"/>
<circle cx="304.3" cy="1156.2" r="6.5"/>
<circle cx="313.6" cy="1156.2" r="6.5"/>
<circle cx="174.7" cy="1171.8" r="6.5"/>
<circle cx="183.9" cy="1171.8" r="6.5"/>
<circle cx="193.2" cy="1171.8" r="6.5"/>
<circle cx="285.8" cy="1171.8" r="6.5"/>
<circle cx="313.6" cy="1171.8" r="6.5"/>
<circle cx="322.8" cy="1171.8" r="6.5"/>
<circle cx="183.9" cy="1187.5" r="6.5"/>
<circle cx="239.5" cy="1187.5" r="6.5"/>
<circle cx="248.7" cy="1187.5" r="6.5"/>
<circle cx="258" cy="1187.5" r="6.5"/>
<circle cx="285.8" cy="1187.5" r="6.5"/>
<circle cx="313.6" cy="1187.5" r="6.5"/>
<circle cx="341.3" cy="1187.5" r="6.5"/>
<circle cx="100.6" cy="1203.2" r="6.5"/>
<circle cx="174.7" cy="1203.2" r="6.5"/>
<circle cx="183.9" cy="1203.2" r="6.5"/>
<circle cx="193.2" cy="1203.2" r="6.5"/>
<circle cx="258" cy="1203.2" r="6.5"/>
<circle cx="322.8" cy="1203.2" r="6.5"/>
<circle cx="341.3" cy="1203.2" r="6.5"/>
<circle cx="350.6" cy="1203.2" r="6.5"/>
<circle cx="276.5" cy="1218.8" r="6.5"/>
<circle cx="221" cy="1234.5" r="6.5"/>
<circle cx="285.8" cy="1234.5" r="6.5"/>
<circle cx="193.2" cy="1281.5" r="6.5"/>
</g>
<path d="M100.5 1124 L114 1123.3 L127.5 1122.5 L141 1121.8 L154.5 1121 L168 1120.1 L181.5 1119.2 L195 1118.2 L208.5 1117.1 L222 1115.8 L235.5 1114.1 L249 1112 L262.5 1109.1 L276 1105.5 L289.5 1101 L303 1096 L316.5 1090.6 L330 1085 L343.5 1079.3 L357 1073.4 L370.5 1067.5 L384 1061.5 L397.5 1055.5 L411 1049.5 L424.5 1043.4 L424.5 1111.4 L411 1112.1 L397.5 1112.9 L384 1113.7 L370.5 1114.5 L357 1115.3 L343.5 1116.3 L330 1117.3 L316.5 1118.5 L303 1119.9 L289.5 1121.7 L276 1124 L262.5 1127.2 L249 1131.1 L235.5 1135.8 L222 1140.9 L208.5 1146.4 L195 1152 L181.5 1157.8 L168 1163.7 L154.5 1169.7 L141 1175.7 L127.5 1181.7 L114 1187.7 L100.5 1193.8Z" fill="#999" fill-opacity="0.4"/>
<line x1="100.5" y1="1158.9" x2="424.5" y2="1077.4" stroke="#000" stroke-width="5.8"/>
<path d="M84.9 936V1297.9H440.9" fill="none" stroke="#000" stroke-width="3.0" stroke-linejoin="round"/>
<path d="M165.4 1297.9v7.8M258 1297.9v7.8M350.6 1297.9v7.8M84.9 1265.8h-7.8M84.9 1187.5h-7.8M84.9 1109.2h-7.8M84.9 1030.9h-7.8M84.9 952.6h-7.8" fill="none" stroke="#333" stroke-width="2.3"/>
<g font-size="26.2" fill="#4D4D4D">
<text transform="translate(165.4 1329.1) scale(0.918 1)" text-anchor="middle">10</text>
<text transform="translate(258 1329.1) scale(0.918 1)" text-anchor="middle">20</text>
<text transform="translate(350.6 1329.1) scale(0.918 1)" text-anchor="middle">30</text>
<text transform="translate(71.4 1275) scale(0.918 1)" text-anchor="end">10</text>
<text transform="translate(71.4 1196.7) scale(0.918 1)" text-anchor="end">15</text>
<text transform="translate(71.4 1118.4) scale(0.918 1)" text-anchor="end">20</text>
<text transform="translate(71.4 1040.1) scale(0.918 1)" text-anchor="end">25</text>
<text transform="translate(71.4 961.8) scale(0.918 1)" text-anchor="end">30</text>
</g>
<text transform="translate(262.9 1363.9) scale(0.943 1)" text-anchor="middle" font-size="32.1" fill="#000">Perceived Stress</text>
<text transform="translate(31 1117) rotate(-90) scale(0.943 1)" text-anchor="middle" font-size="32.1" fill="#000">Fibromyalgianess</text>
</g>
<g>
<g fill="#FFA500">
<circle cx="777.4" cy="952.6" r="6.5"/>
<circle cx="729.4" cy="968.3" r="6.5"/>
<circle cx="706.8" cy="999.6" r="6.5"/>
<circle cx="624.5" cy="1015.2" r="6.5"/>
<circle cx="699" cy="1015.2" r="6.5"/>
<circle cx="698.4" cy="1030.9" r="6.5"/>
<circle cx="705.9" cy="1030.9" r="6.5"/>
<circle cx="723.1" cy="1030.9" r="6.5"/>
<circle cx="770.2" cy="1030.9" r="6.5"/>
<circle cx="783.1" cy="1030.9" r="6.5"/>
<circle cx="563.4" cy="1046.6" r="6.5"/>
<circle cx="603.9" cy="1046.6" r="6.5"/>
<circle cx="699.3" cy="1046.6" r="6.5"/>
<circle cx="723.1" cy="1046.6" r="6.5"/>
<circle cx="782.8" cy="1046.6" r="6.5"/>
<circle cx="792.3" cy="1046.6" r="6.5"/>
<circle cx="801.8" cy="1046.6" r="6.5"/>
<circle cx="683.5" cy="1062.2" r="6.5"/>
<circle cx="710.9" cy="1062.2" r="6.5"/>
<circle cx="737.2" cy="1062.2" r="6.5"/>
<circle cx="744" cy="1062.2" r="6.5"/>
<circle cx="769.9" cy="1062.2" r="6.5"/>
<circle cx="788.7" cy="1062.2" r="6.5"/>
<circle cx="802.4" cy="1062.2" r="6.5"/>
<circle cx="602.4" cy="1077.9" r="6.5"/>
<circle cx="645.1" cy="1077.9" r="6.5"/>
<circle cx="685" cy="1077.9" r="6.5"/>
<circle cx="693.3" cy="1077.9" r="6.5"/>
<circle cx="765.5" cy="1077.9" r="6.5"/>
<circle cx="773.8" cy="1077.9" r="6.5"/>
<circle cx="788.7" cy="1077.9" r="6.5"/>
<circle cx="795.3" cy="1077.9" r="6.5"/>
<circle cx="632.8" cy="1093.5" r="6.5"/>
<circle cx="729.1" cy="1093.5" r="6.5"/>
<circle cx="737.2" cy="1093.5" r="6.5"/>
<circle cx="769.3" cy="1093.5" r="6.5"/>
<circle cx="785.7" cy="1093.5" r="6.5"/>
<circle cx="794.4" cy="1093.5" r="6.5"/>
<circle cx="830.1" cy="1093.5" r="6.5"/>
<circle cx="697.8" cy="1109.2" r="6.5"/>
<circle cx="718.4" cy="1109.2" r="6.5"/>
<circle cx="744" cy="1109.2" r="6.5"/>
<circle cx="747.6" cy="1109.2" r="6.5"/>
<circle cx="760.4" cy="1109.2" r="6.5"/>
<circle cx="765.5" cy="1109.2" r="6.5"/>
<circle cx="770.8" cy="1109.2" r="6.5"/>
<circle cx="791.1" cy="1109.2" r="6.5"/>
<circle cx="811.4" cy="1109.2" r="6.5"/>
<circle cx="831.3" cy="1109.2" r="6.5"/>
<circle cx="683.8" cy="1124.9" r="6.5"/>
<circle cx="731.2" cy="1124.9" r="6.5"/>
<circle cx="764.6" cy="1124.9" r="6.5"/>
<circle cx="786.9" cy="1124.9" r="6.5"/>
<circle cx="805.7" cy="1124.9" r="6.5"/>
<circle cx="818.5" cy="1124.9" r="6.5"/>
<circle cx="583.1" cy="1140.5" r="6.5"/>
<circle cx="690.7" cy="1140.5" r="6.5"/>
<circle cx="757.4" cy="1140.5" r="6.5"/>
<circle cx="765.5" cy="1140.5" r="6.5"/>
<circle cx="775" cy="1140.5" r="6.5"/>
<circle cx="793.5" cy="1140.5" r="6.5"/>
<circle cx="842.1" cy="1140.5" r="6.5"/>
<circle cx="886.8" cy="1140.5" r="6.5"/>
<circle cx="591.4" cy="1156.2" r="6.5"/>
<circle cx="692.4" cy="1156.2" r="6.5"/>
<circle cx="737.7" cy="1156.2" r="6.5"/>
<circle cx="763.4" cy="1156.2" r="6.5"/>
<circle cx="768.5" cy="1156.2" r="6.5"/>
<circle cx="773.8" cy="1156.2" r="6.5"/>
<circle cx="679.6" cy="1171.8" r="6.5"/>
<circle cx="738.3" cy="1171.8" r="6.5"/>
<circle cx="758" cy="1171.8" r="6.5"/>
<circle cx="769.9" cy="1171.8" r="6.5"/>
<circle cx="775" cy="1171.8" r="6.5"/>
<circle cx="804.2" cy="1171.8" r="6.5"/>
<circle cx="621.5" cy="1187.5" r="6.5"/>
<circle cx="635.5" cy="1187.5" r="6.5"/>
<circle cx="667.1" cy="1187.5" r="6.5"/>
<circle cx="724" cy="1187.5" r="6.5"/>
<circle cx="749.4" cy="1187.5" r="6.5"/>
<circle cx="798.9" cy="1187.5" r="6.5"/>
<circle cx="814.6" cy="1187.5" r="6.5"/>
<circle cx="821.5" cy="1187.5" r="6.5"/>
<circle cx="842.4" cy="1187.5" r="6.5"/>
<circle cx="650.7" cy="1203.2" r="6.5"/>
<circle cx="702.9" cy="1203.2" r="6.5"/>
<circle cx="723.4" cy="1203.2" r="6.5"/>
<circle cx="737.2" cy="1203.2" r="6.5"/>
<circle cx="748.5" cy="1203.2" r="6.5"/>
<circle cx="766.4" cy="1203.2" r="6.5"/>
<circle cx="793.5" cy="1203.2" r="6.5"/>
<circle cx="829.3" cy="1203.2" r="6.5"/>
<circle cx="751.8" cy="1218.8" r="6.5"/>
<circle cx="691" cy="1234.5" r="6.5"/>
<circle cx="777.7" cy="1234.5" r="6.5"/>
<circle cx="761.9" cy="1281.5" r="6.5"/>
</g>
<path d="M563.4 1059.1 L576.9 1063.3 L590.4 1067.4 L603.8 1071.5 L617.3 1075.6 L630.8 1079.6 L644.2 1083.6 L657.7 1087.5 L671.2 1091.3 L684.7 1094.9 L698.1 1098.3 L711.6 1101.4 L725.1 1104 L738.6 1106 L752 1107.3 L765.5 1108 L779 1108.1 L792.5 1107.8 L805.9 1107.2 L819.4 1106.4 L832.9 1105.6 L846.4 1104.6 L859.8 1103.5 L873.3 1102.4 L886.8 1101.3 L886.8 1165.3 L873.3 1161.2 L859.8 1157.2 L846.4 1153.2 L832.9 1149.2 L819.4 1145.4 L805.9 1141.7 L792.5 1138.1 L779 1134.9 L765.5 1132 L752 1129.7 L738.6 1128.1 L725.1 1127.1 L711.6 1126.8 L698.1 1126.9 L684.7 1127.3 L671.2 1128 L657.7 1128.8 L644.2 1129.8 L630.8 1130.8 L617.3 1131.9 L603.8 1133 L590.4 1134.1 L576.9 1135.3 L563.4 1136.5Z" fill="#999" fill-opacity="0.4"/>
<line x1="563.4" y1="1097.8" x2="886.8" y2="1133.3" stroke="#000" stroke-width="5.8"/>
<path d="M547.4 936V1297.9H903.2" fill="none" stroke="#000" stroke-width="3.0" stroke-linejoin="round"/>
<path d="M597.8 1297.9v7.8M693 1297.9v7.8M788.2 1297.9v7.8M883.4 1297.9v7.8M547.4 1265.8h-7.8M547.4 1187.5h-7.8M547.4 1109.2h-7.8M547.4 1030.9h-7.8M547.4 952.6h-7.8" fill="none" stroke="#333" stroke-width="2.3"/>
<g font-size="26.2" fill="#4D4D4D">
<text transform="translate(597.8 1329.1) scale(0.918 1)" text-anchor="middle">-1</text>
<text transform="translate(693 1329.1) scale(0.918 1)" text-anchor="middle">0</text>
<text transform="translate(788.2 1329.1) scale(0.918 1)" text-anchor="middle">1</text>
<text transform="translate(883.4 1329.1) scale(0.918 1)" text-anchor="middle">2</text>
<text transform="translate(533.9 1275) scale(0.918 1)" text-anchor="end">10</text>
<text transform="translate(533.9 1196.7) scale(0.918 1)" text-anchor="end">15</text>
<text transform="translate(533.9 1118.4) scale(0.918 1)" text-anchor="end">20</text>
<text transform="translate(533.9 1040.1) scale(0.918 1)" text-anchor="end">25</text>
<text transform="translate(533.9 961.8) scale(0.918 1)" text-anchor="end">30</text>
</g>
<text transform="translate(725.3 1363.9) scale(0.943 1)" text-anchor="middle" font-size="32.1" fill="#000">Salivary Cortisol (log, pg/ml)</text>
<text transform="translate(492.6 1117) rotate(-90) scale(0.943 1)" text-anchor="middle" font-size="32.1" fill="#000">Fibromyalgianess</text>
</g>
<g>
<g fill="#FFA500">
<circle cx="1198.4" cy="952.6" r="6.5"/>
<circle cx="1163.9" cy="968.3" r="6.5"/>
<circle cx="1198.7" cy="999.6" r="6.5"/>
<circle cx="1160" cy="1015.2" r="6.5"/>
<circle cx="1231.2" cy="1015.2" r="6.5"/>
<circle cx="1167.4" cy="1030.9" r="6.5"/>
<circle cx="1179.4" cy="1030.9" r="6.5"/>
<circle cx="1182.3" cy="1030.9" r="6.5"/>
<circle cx="1237.5" cy="1030.9" r="6.5"/>
<circle cx="1303.6" cy="1030.9" r="6.5"/>
<circle cx="1025.9" cy="1046.6" r="6.5"/>
<circle cx="1164.8" cy="1046.6" r="6.5"/>
<circle cx="1188.3" cy="1046.6" r="6.5"/>
<circle cx="1201.7" cy="1046.6" r="6.5"/>
<circle cx="1257.4" cy="1046.6" r="6.5"/>
<circle cx="1292.9" cy="1046.6" r="6.5"/>
<circle cx="1153.1" cy="1062.2" r="6.5"/>
<circle cx="1174.3" cy="1062.2" r="6.5"/>
<circle cx="1180.3" cy="1062.2" r="6.5"/>
<circle cx="1188.3" cy="1062.2" r="6.5"/>
<circle cx="1196" cy="1062.2" r="6.5"/>
<circle cx="1253.9" cy="1062.2" r="6.5"/>
<circle cx="1289" cy="1062.2" r="6.5"/>
<circle cx="1116.2" cy="1077.9" r="6.5"/>
<circle cx="1143.3" cy="1077.9" r="6.5"/>
<circle cx="1174.3" cy="1077.9" r="6.5"/>
<circle cx="1227.9" cy="1077.9" r="6.5"/>
<circle cx="1242.8" cy="1077.9" r="6.5"/>
<circle cx="1244.9" cy="1077.9" r="6.5"/>
<circle cx="1349.3" cy="1077.9" r="6.5"/>
<circle cx="1171.3" cy="1093.5" r="6.5"/>
<circle cx="1176.7" cy="1093.5" r="6.5"/>
<circle cx="1181.7" cy="1093.5" r="6.5"/>
<circle cx="1193.7" cy="1093.5" r="6.5"/>
<circle cx="1197.5" cy="1093.5" r="6.5"/>
<circle cx="1211" cy="1093.5" r="6.5"/>
<circle cx="1261.6" cy="1093.5" r="6.5"/>
<circle cx="1160.9" cy="1109.2" r="6.5"/>
<circle cx="1177.3" cy="1109.2" r="6.5"/>
<circle cx="1183.2" cy="1109.2" r="6.5"/>
<circle cx="1198.1" cy="1109.2" r="6.5"/>
<circle cx="1203.2" cy="1109.2" r="6.5"/>
<circle cx="1210.1" cy="1109.2" r="6.5"/>
<circle cx="1213.9" cy="1109.2" r="6.5"/>
<circle cx="1243.4" cy="1109.2" r="6.5"/>
<circle cx="1251.2" cy="1109.2" r="6.5"/>
<circle cx="1266.1" cy="1109.2" r="6.5"/>
<circle cx="1302.8" cy="1109.2" r="6.5"/>
<circle cx="1149.3" cy="1124.9" r="6.5"/>
<circle cx="1163.9" cy="1124.9" r="6.5"/>
<circle cx="1168.9" cy="1124.9" r="6.5"/>
<circle cx="1174.3" cy="1124.9" r="6.5"/>
<circle cx="1199" cy="1124.9" r="6.5"/>
<circle cx="1113.2" cy="1140.5" r="6.5"/>
<circle cx="1126.6" cy="1140.5" r="6.5"/>
<circle cx="1169.5" cy="1140.5" r="6.5"/>
<circle cx="1190.7" cy="1140.5" r="6.5"/>
<circle cx="1196.6" cy="1140.5" r="6.5"/>
<circle cx="1235.4" cy="1140.5" r="6.5"/>
<circle cx="1272.6" cy="1140.5" r="6.5"/>
<circle cx="1299.5" cy="1140.5" r="6.5"/>
<circle cx="1177" cy="1156.2" r="6.5"/>
<circle cx="1208" cy="1156.2" r="6.5"/>
<circle cx="1244.9" cy="1156.2" r="6.5"/>
<circle cx="1251.8" cy="1156.2" r="6.5"/>
<circle cx="1273.2" cy="1156.2" r="6.5"/>
<circle cx="1143.3" cy="1171.8" r="6.5"/>
<circle cx="1174.3" cy="1171.8" r="6.5"/>
<circle cx="1180.3" cy="1171.8" r="6.5"/>
<circle cx="1184.7" cy="1171.8" r="6.5"/>
<circle cx="1201.1" cy="1171.8" r="6.5"/>
<circle cx="1205" cy="1171.8" r="6.5"/>
<circle cx="1142.1" cy="1187.5" r="6.5"/>
<circle cx="1162.7" cy="1187.5" r="6.5"/>
<circle cx="1181.7" cy="1187.5" r="6.5"/>
<circle cx="1187.1" cy="1187.5" r="6.5"/>
<circle cx="1213" cy="1187.5" r="6.5"/>
<circle cx="1236.3" cy="1187.5" r="6.5"/>
<circle cx="1277.4" cy="1187.5" r="6.5"/>
<circle cx="1294.7" cy="1187.5" r="6.5"/>
<circle cx="1166.2" cy="1203.2" r="6.5"/>
<circle cx="1181.7" cy="1203.2" r="6.5"/>
<circle cx="1189.8" cy="1203.2" r="6.5"/>
<circle cx="1209.8" cy="1203.2" r="6.5"/>
<circle cx="1230.9" cy="1203.2" r="6.5"/>
<circle cx="1240.8" cy="1203.2" r="6.5"/>
<circle cx="1245.8" cy="1203.2" r="6.5"/>
<circle cx="1287.6" cy="1203.2" r="6.5"/>
<circle cx="1298.3" cy="1218.8" r="6.5"/>
<circle cx="1241.9" cy="1234.5" r="6.5"/>
<circle cx="1255.4" cy="1234.5" r="6.5"/>
<circle cx="1278" cy="1281.5" r="6.5"/>
</g>
<path d="M1025.9 1032.5 L1039.4 1038.7 L1052.9 1044.8 L1066.3 1050.9 L1079.8 1057 L1093.3 1063.1 L1106.8 1069.1 L1120.2 1075 L1133.7 1080.8 L1147.2 1086.5 L1160.7 1091.9 L1174.1 1097 L1187.6 1101.5 L1201.1 1105.2 L1214.5 1107.9 L1228 1109.7 L1241.5 1110.8 L1255 1111.4 L1268.5 1111.7 L1281.9 1111.8 L1295.4 1111.8 L1308.9 1111.7 L1322.3 1111.5 L1335.8 1111.3 L1349.3 1111.1 L1349.3 1185.9 L1335.8 1179.8 L1322.3 1173.7 L1308.9 1167.7 L1295.4 1161.7 L1281.9 1155.9 L1268.5 1150.1 L1255 1144.6 L1241.5 1139.3 L1228 1134.5 L1214.5 1130.4 L1201.1 1127.3 L1187.6 1125.1 L1174.1 1123.7 L1160.7 1122.9 L1147.2 1122.5 L1133.7 1122.3 L1120.2 1122.3 L1106.8 1122.3 L1093.3 1122.5 L1079.8 1122.7 L1066.3 1122.9 L1052.9 1123.1 L1039.4 1123.4 L1025.9 1123.7Z" fill="#999" fill-opacity="0.4"/>
<line x1="1025.9" y1="1078.1" x2="1349.3" y2="1148.5" stroke="#000" stroke-width="5.8"/>
<path d="M1009.6 936V1297.9H1365.6" fill="none" stroke="#000" stroke-width="3.0" stroke-linejoin="round"/>
<path d="M1024.3 1297.9v7.8M1124.5 1297.9v7.8M1224.7 1297.9v7.8M1324.9 1297.9v7.8M1009.6 1265.8h-7.8M1009.6 1187.5h-7.8M1009.6 1109.2h-7.8M1009.6 1030.9h-7.8M1009.6 952.6h-7.8" fill="none" stroke="#333" stroke-width="2.3"/>
<g font-size="26.2" fill="#4D4D4D">
<text transform="translate(1024.3 1329.1) scale(0.918 1)" text-anchor="middle">-2</text>
<text transform="translate(1124.5 1329.1) scale(0.918 1)" text-anchor="middle">0</text>
<text transform="translate(1224.7 1329.1) scale(0.918 1)" text-anchor="middle">2</text>
<text transform="translate(1324.9 1329.1) scale(0.918 1)" text-anchor="middle">4</text>
<text transform="translate(996.1 1275) scale(0.918 1)" text-anchor="end">10</text>
<text transform="translate(996.1 1196.7) scale(0.918 1)" text-anchor="end">15</text>
<text transform="translate(996.1 1118.4) scale(0.918 1)" text-anchor="end">20</text>
<text transform="translate(996.1 1040.1) scale(0.918 1)" text-anchor="end">25</text>
<text transform="translate(996.1 961.8) scale(0.918 1)" text-anchor="end">30</text>
</g>
<text transform="translate(1187.6 1363.9) scale(0.943 1)" text-anchor="middle" font-size="32.1" fill="#000">Hair Cortisol (log, pg/mg)</text>
<text transform="translate(956.5 1117) rotate(-90) scale(0.943 1)" text-anchor="middle" font-size="32.1" fill="#000">Fibromyalgianess</text>
</g>
<g>
<g fill="#FFA500">
<circle cx="285.8" cy="1411.6" r="6.5"/>
<circle cx="313.6" cy="1437" r="6.5"/>
<circle cx="341.3" cy="1437" r="6.5"/>
<circle cx="387.6" cy="1449.6" r="6.5"/>
<circle cx="424.7" cy="1449.6" r="6.5"/>
<circle cx="276.5" cy="1462.3" r="6.5"/>
<circle cx="322.8" cy="1487.6" r="6.5"/>
<circle cx="369.1" cy="1487.6" r="6.5"/>
<circle cx="295" cy="1500.3" r="6.5"/>
<circle cx="322.8" cy="1500.3" r="6.5"/>
<circle cx="248.7" cy="1513" r="6.5"/>
<circle cx="258" cy="1513" r="6.5"/>
<circle cx="267.3" cy="1513" r="6.5"/>
<circle cx="285.8" cy="1513" r="6.5"/>
<circle cx="322.8" cy="1513" r="6.5"/>
<circle cx="332.1" cy="1513" r="6.5"/>
<circle cx="313.6" cy="1525.6" r="6.5"/>
<circle cx="322.8" cy="1525.6" r="6.5"/>
<circle cx="350.6" cy="1525.6" r="6.5"/>
<circle cx="239.5" cy="1538.3" r="6.5"/>
<circle cx="248.7" cy="1538.3" r="6.5"/>
<circle cx="276.5" cy="1538.3" r="6.5"/>
<circle cx="295" cy="1538.3" r="6.5"/>
<circle cx="304.3" cy="1538.3" r="6.5"/>
<circle cx="211.7" cy="1550.9" r="6.5"/>
<circle cx="239.5" cy="1550.9" r="6.5"/>
<circle cx="258" cy="1550.9" r="6.5"/>
<circle cx="276.5" cy="1550.9" r="6.5"/>
<circle cx="322.8" cy="1550.9" r="6.5"/>
<circle cx="350.6" cy="1550.9" r="6.5"/>
<circle cx="156.1" cy="1563.6" r="6.5"/>
<circle cx="183.9" cy="1563.6" r="6.5"/>
<circle cx="341.3" cy="1563.6" r="6.5"/>
<circle cx="415.4" cy="1563.6" r="6.5"/>
<circle cx="183.9" cy="1576.3" r="6.5"/>
<circle cx="248.7" cy="1576.3" r="6.5"/>
<circle cx="258" cy="1576.3" r="6.5"/>
<circle cx="304.3" cy="1576.3" r="6.5"/>
<circle cx="313.6" cy="1576.3" r="6.5"/>
<circle cx="146.9" cy="1588.9" r="6.5"/>
<circle cx="165.4" cy="1588.9" r="6.5"/>
<circle cx="239.5" cy="1588.9" r="6.5"/>
<circle cx="248.7" cy="1588.9" r="6.5"/>
<circle cx="258" cy="1588.9" r="6.5"/>
<circle cx="322.8" cy="1588.9" r="6.5"/>
<circle cx="174.7" cy="1601.6" r="6.5"/>
<circle cx="193.2" cy="1601.6" r="6.5"/>
<circle cx="313.6" cy="1601.6" r="6.5"/>
<circle cx="146.9" cy="1614.3" r="6.5"/>
<circle cx="183.9" cy="1614.3" r="6.5"/>
<circle cx="230.2" cy="1614.3" r="6.5"/>
<circle cx="258" cy="1614.3" r="6.5"/>
<circle cx="285.8" cy="1614.3" r="6.5"/>
<circle cx="295" cy="1614.3" r="6.5"/>
<circle cx="313.6" cy="1614.3" r="6.5"/>
<circle cx="350.6" cy="1614.3" r="6.5"/>
<circle cx="193.2" cy="1626.9" r="6.5"/>
<circle cx="202.4" cy="1626.9" r="6.5"/>
<circle cx="221" cy="1626.9" r="6.5"/>
<circle cx="258" cy="1626.9" r="6.5"/>
<circle cx="267.3" cy="1626.9" r="6.5"/>
<circle cx="285.8" cy="1626.9" r="6.5"/>
<circle cx="183.9" cy="1639.6" r="6.5"/>
<circle cx="230.2" cy="1639.6" r="6.5"/>
<circle cx="258" cy="1639.6" r="6.5"/>
<circle cx="285.8" cy="1639.6" r="6.5"/>
<circle cx="202.4" cy="1652.3" r="6.5"/>
<circle cx="230.2" cy="1652.3" r="6.5"/>
<circle cx="239.5" cy="1652.3" r="6.5"/>
<circle cx="248.7" cy="1652.3" r="6.5"/>
<circle cx="276.5" cy="1652.3" r="6.5"/>
<circle cx="341.3" cy="1652.3" r="6.5"/>
<circle cx="174.7" cy="1664.9" r="6.5"/>
<circle cx="248.7" cy="1664.9" r="6.5"/>
<circle cx="276.5" cy="1664.9" r="6.5"/>
<circle cx="322.8" cy="1664.9" r="6.5"/>
<circle cx="183.9" cy="1677.6" r="6.5"/>
<circle cx="221" cy="1677.6" r="6.5"/>
<circle cx="239.5" cy="1677.6" r="6.5"/>
<circle cx="258" cy="1677.6" r="6.5"/>
<circle cx="285.8" cy="1677.6" r="6.5"/>
<circle cx="193.2" cy="1690.3" r="6.5"/>
<circle cx="221" cy="1690.3" r="6.5"/>
<circle cx="258" cy="1690.3" r="6.5"/>
<circle cx="304.3" cy="1690.3" r="6.5"/>
<circle cx="100.6" cy="1702.9" r="6.5"/>
<circle cx="174.7" cy="1702.9" r="6.5"/>
<circle cx="322.8" cy="1715.6" r="6.5"/>
<circle cx="276.5" cy="1740.9" r="6.5"/>
</g>
<path d="M100.5 1629.4 L114 1625.9 L127.5 1622.4 L141 1618.8 L154.5 1615.2 L168 1611.6 L181.5 1607.8 L195 1604 L208.5 1600 L222 1595.8 L235.5 1591.2 L249 1586.1 L262.5 1580.3 L276 1573.7 L289.5 1566.3 L303 1558.4 L316.5 1550.1 L330 1541.6 L343.5 1532.9 L357 1524.1 L370.5 1515.3 L384 1506.3 L397.5 1497.4 L411 1488.4 L424.5 1479.4 L424.5 1551 L411 1554.5 L397.5 1558 L384 1561.6 L370.5 1565.2 L357 1568.9 L343.5 1572.6 L330 1576.4 L316.5 1580.4 L303 1584.7 L289.5 1589.3 L276 1594.4 L262.5 1600.3 L249 1607 L235.5 1614.4 L222 1622.3 L208.5 1630.6 L195 1639.2 L181.5 1647.9 L168 1656.7 L154.5 1665.5 L141 1674.4 L127.5 1683.4 L114 1692.4 L100.5 1701.4Z" fill="#999" fill-opacity="0.4"/>
<line x1="100.5" y1="1665.4" x2="424.5" y2="1515.2" stroke="#000" stroke-width="5.8"/>
<path d="M84.9 1395.3V1757H440.9" fill="none" stroke="#000" stroke-width="3.0" stroke-linejoin="round"/>
<path d="M165.4 1757v7.8M258 1757v7.8M350.6 1757v7.8M84.9 1677.6h-7.8M84.9 1550.9h-7.8M84.9 1424.3h-7.8" fill="none" stroke="#333" stroke-width="2.3"/>
<g font-size="26.2" fill="#4D4D4D">
<text transform="translate(165.4 1788.2) scale(0.918 1)" text-anchor="middle">10</text>
<text transform="translate(258 1788.2) scale(0.918 1)" text-anchor="middle">20</text>
<text transform="translate(350.6 1788.2) scale(0.918 1)" text-anchor="middle">30</text>
<text transform="translate(71.4 1686.8) scale(0.918 1)" text-anchor="end">10</text>
<text transform="translate(71.4 1560.1) scale(0.918 1)" text-anchor="end">20</text>
<text transform="translate(71.4 1433.5) scale(0.918 1)" text-anchor="end">30</text>
</g>
<text transform="translate(262.9 1823) scale(0.943 1)" text-anchor="middle" font-size="32.1" fill="#000">Perceived Stress</text>
<text transform="translate(31 1576.2) rotate(-90) scale(0.943 1)" text-anchor="middle" font-size="32.1" fill="#000">Symptom Burden</text>
</g>
<g>
<g fill="#FFA500">
<circle cx="563.4" cy="1411.6" r="6.5"/>
<circle cx="747" cy="1437" r="6.5"/>
<circle cx="758" cy="1437" r="6.5"/>
<circle cx="624.5" cy="1449.6" r="6.5"/>
<circle cx="777.4" cy="1449.6" r="6.5"/>
<circle cx="801.5" cy="1462.3" r="6.5"/>
<circle cx="782.8" cy="1487.6" r="6.5"/>
<circle cx="792.6" cy="1487.6" r="6.5"/>
<circle cx="603.9" cy="1500.3" r="6.5"/>
<circle cx="705.9" cy="1500.3" r="6.5"/>
<circle cx="683.5" cy="1513" r="6.5"/>
<circle cx="697.5" cy="1513" r="6.5"/>
<circle cx="710.9" cy="1513" r="6.5"/>
<circle cx="717.8" cy="1513" r="6.5"/>
<circle cx="723.1" cy="1513" r="6.5"/>
<circle cx="786.3" cy="1513" r="6.5"/>
<circle cx="793.8" cy="1513" r="6.5"/>
<circle cx="799.7" cy="1513" r="6.5"/>
<circle cx="804.8" cy="1513" r="6.5"/>
<circle cx="729.7" cy="1525.6" r="6.5"/>
<circle cx="782.8" cy="1525.6" r="6.5"/>
<circle cx="811.4" cy="1525.6" r="6.5"/>
<circle cx="602.4" cy="1538.3" r="6.5"/>
<circle cx="691.8" cy="1538.3" r="6.5"/>
<circle cx="699" cy="1538.3" r="6.5"/>
<circle cx="765.8" cy="1538.3" r="6.5"/>
<circle cx="791.1" cy="1538.3" r="6.5"/>
<circle cx="591.4" cy="1550.9" r="6.5"/>
<circle cx="723.7" cy="1550.9" r="6.5"/>
<circle cx="764.9" cy="1550.9" r="6.5"/>
<circle cx="788.7" cy="1550.9" r="6.5"/>
<circle cx="793.8" cy="1550.9" r="6.5"/>
<circle cx="830.1" cy="1550.9" r="6.5"/>
<circle cx="723.1" cy="1563.6" r="6.5"/>
<circle cx="795.3" cy="1563.6" r="6.5"/>
<circle cx="806" cy="1563.6" r="6.5"/>
<circle cx="842.4" cy="1563.6" r="6.5"/>
<circle cx="645.1" cy="1576.3" r="6.5"/>
<circle cx="679.6" cy="1576.3" r="6.5"/>
<circle cx="731.2" cy="1576.3" r="6.5"/>
<circle cx="760.4" cy="1576.3" r="6.5"/>
<circle cx="766.4" cy="1576.3" r="6.5"/>
<circle cx="772.9" cy="1576.3" r="6.5"/>
<circle cx="583.1" cy="1588.9" r="6.5"/>
<circle cx="736.6" cy="1588.9" r="6.5"/>
<circle cx="743.1" cy="1588.9" r="6.5"/>
<circle cx="768.5" cy="1588.9" r="6.5"/>
<circle cx="773.8" cy="1588.9" r="6.5"/>
<circle cx="798.9" cy="1588.9" r="6.5"/>
<circle cx="831.6" cy="1588.9" r="6.5"/>
<circle cx="738" cy="1601.6" r="6.5"/>
<circle cx="775" cy="1601.6" r="6.5"/>
<circle cx="683.5" cy="1614.3" r="6.5"/>
<circle cx="688" cy="1614.3" r="6.5"/>
<circle cx="693.3" cy="1614.3" r="6.5"/>
<circle cx="737.2" cy="1614.3" r="6.5"/>
<circle cx="749.4" cy="1614.3" r="6.5"/>
<circle cx="769.9" cy="1614.3" r="6.5"/>
<circle cx="788.4" cy="1614.3" r="6.5"/>
<circle cx="818.5" cy="1614.3" r="6.5"/>
<circle cx="632.8" cy="1626.9" r="6.5"/>
<circle cx="702.9" cy="1626.9" r="6.5"/>
<circle cx="744.3" cy="1626.9" r="6.5"/>
<circle cx="769.3" cy="1626.9" r="6.5"/>
<circle cx="777.4" cy="1626.9" r="6.5"/>
<circle cx="785.7" cy="1626.9" r="6.5"/>
<circle cx="691" cy="1639.6" r="6.5"/>
<circle cx="699.3" cy="1639.6" r="6.5"/>
<circle cx="737.7" cy="1639.6" r="6.5"/>
<circle cx="788.4" cy="1639.6" r="6.5"/>
<circle cx="706.5" cy="1652.3" r="6.5"/>
<circle cx="748.5" cy="1652.3" r="6.5"/>
<circle cx="764.6" cy="1652.3" r="6.5"/>
<circle cx="793.8" cy="1652.3" r="6.5"/>
<circle cx="815.2" cy="1652.3" r="6.5"/>
<circle cx="821.2" cy="1652.3" r="6.5"/>
<circle cx="842.4" cy="1652.3" r="6.5"/>
<circle cx="729.7" cy="1664.9" r="6.5"/>
<circle cx="758" cy="1664.9" r="6.5"/>
<circle cx="766.1" cy="1664.9" r="6.5"/>
<circle cx="621.5" cy="1677.6" r="6.5"/>
<circle cx="635.8" cy="1677.6" r="6.5"/>
<circle cx="667.1" cy="1677.6" r="6.5"/>
<circle cx="691" cy="1677.6" r="6.5"/>
<circle cx="887.1" cy="1677.6" r="6.5"/>
<circle cx="740.7" cy="1690.3" r="6.5"/>
<circle cx="761" cy="1690.3" r="6.5"/>
<circle cx="767" cy="1690.3" r="6.5"/>
<circle cx="775" cy="1690.3" r="6.5"/>
<circle cx="650.7" cy="1702.9" r="6.5"/>
<circle cx="723.7" cy="1702.9" r="6.5"/>
<circle cx="829" cy="1715.6" r="6.5"/>
<circle cx="751.8" cy="1740.9" r="6.5"/>
</g>
<path d="M563.4 1529.2 L576.9 1533.4 L590.4 1537.7 L603.9 1541.8 L617.4 1546 L630.8 1550.1 L644.3 1554.2 L657.8 1558.1 L671.3 1562 L684.8 1565.6 L698.3 1569.1 L711.8 1572.1 L725.2 1574.7 L738.7 1576.6 L752.2 1577.7 L765.7 1578.1 L779.2 1577.9 L792.7 1577.3 L806.2 1576.3 L819.7 1575.2 L833.2 1574 L846.6 1572.6 L860.1 1571.2 L873.6 1569.7 L887.1 1568.2 L887.1 1638 L873.6 1633.8 L860.1 1629.7 L846.6 1625.6 L833.2 1621.6 L819.7 1617.7 L806.2 1613.9 L792.7 1610.3 L779.2 1607.1 L765.7 1604.2 L752.2 1601.9 L738.7 1600.4 L725.2 1599.6 L711.8 1599.5 L698.3 1599.9 L684.8 1600.7 L671.3 1601.7 L657.8 1602.9 L644.3 1604.2 L630.8 1605.6 L617.4 1607 L603.9 1608.5 L590.4 1610.1 L576.9 1611.6 L563.4 1613.2Z" fill="#999" fill-opacity="0.4"/>
<line x1="563.4" y1="1571.2" x2="887.1" y2="1603.1" stroke="#000" stroke-width="5.8"/>
<path d="M547.4 1395.3V1757H903.2" fill="none" stroke="#000" stroke-width="3.0" stroke-linejoin="round"/>
<path d="M597.8 1757v7.8M693 1757v7.8M788.2 1757v7.8M883.4 1757v7.8M547.4 1677.6h-7.8M547.4 1550.9h-7.8M547.4 1424.3h-7.8" fill="none" stroke="#333" stroke-width="2.3"/>
<g font-size="26.2" fill="#4D4D4D">
<text transform="translate(597.8 1788.2) scale(0.918 1)" text-anchor="middle">-1</text>
<text transform="translate(693 1788.2) scale(0.918 1)" text-anchor="middle">0</text>
<text transform="translate(788.2 1788.2) scale(0.918 1)" text-anchor="middle">1</text>
<text transform="translate(883.4 1788.2) scale(0.918 1)" text-anchor="middle">2</text>
<text transform="translate(533.9 1686.8) scale(0.918 1)" text-anchor="end">10</text>
<text transform="translate(533.9 1560.1) scale(0.918 1)" text-anchor="end">20</text>
<text transform="translate(533.9 1433.5) scale(0.918 1)" text-anchor="end">30</text>
</g>
<text transform="translate(725.3 1823) scale(0.943 1)" text-anchor="middle" font-size="32.1" fill="#000">Salivary Cortisol (log, pg/ml)</text>
<text transform="translate(492.6 1576.2) rotate(-90) scale(0.943 1)" text-anchor="middle" font-size="32.1" fill="#000">Symptom Burden</text>
</g>
<g>
<g fill="#FFA500">
<circle cx="1165.6" cy="1411.6" r="6.5"/>
<circle cx="1184.4" cy="1437" r="6.5"/>
<circle cx="1303.4" cy="1437" r="6.5"/>
<circle cx="1198.7" cy="1449.6" r="6.5"/>
<circle cx="1231.2" cy="1449.6" r="6.5"/>
<circle cx="1293.2" cy="1462.3" r="6.5"/>
<circle cx="1188.6" cy="1487.6" r="6.5"/>
<circle cx="1202" cy="1487.6" r="6.5"/>
<circle cx="1257.7" cy="1500.3" r="6.5"/>
<circle cx="1303.9" cy="1500.3" r="6.5"/>
<circle cx="1025.9" cy="1513" r="6.5"/>
<circle cx="1149" cy="1513" r="6.5"/>
<circle cx="1171.3" cy="1513" r="6.5"/>
<circle cx="1176.4" cy="1513" r="6.5"/>
<circle cx="1181.1" cy="1513" r="6.5"/>
<circle cx="1199.3" cy="1513" r="6.5"/>
<circle cx="1213.9" cy="1513" r="6.5"/>
<circle cx="1251.8" cy="1513" r="6.5"/>
<circle cx="1163.9" cy="1525.6" r="6.5"/>
<circle cx="1168.3" cy="1525.6" r="6.5"/>
<circle cx="1244.3" cy="1525.6" r="6.5"/>
<circle cx="1143.6" cy="1538.3" r="6.5"/>
<circle cx="1160.3" cy="1538.3" r="6.5"/>
<circle cx="1174.9" cy="1538.3" r="6.5"/>
<circle cx="1199" cy="1538.3" r="6.5"/>
<circle cx="1251.5" cy="1538.3" r="6.5"/>
<circle cx="1176.7" cy="1550.9" r="6.5"/>
<circle cx="1182.6" cy="1550.9" r="6.5"/>
<circle cx="1197.2" cy="1550.9" r="6.5"/>
<circle cx="1236" cy="1550.9" r="6.5"/>
<circle cx="1242.8" cy="1550.9" r="6.5"/>
<circle cx="1246.7" cy="1550.9" r="6.5"/>
<circle cx="1150.1" cy="1563.6" r="6.5"/>
<circle cx="1182" cy="1563.6" r="6.5"/>
<circle cx="1243.7" cy="1563.6" r="6.5"/>
<circle cx="1300.1" cy="1563.6" r="6.5"/>
<circle cx="1161.5" cy="1576.3" r="6.5"/>
<circle cx="1171.9" cy="1576.3" r="6.5"/>
<circle cx="1177.9" cy="1576.3" r="6.5"/>
<circle cx="1184.7" cy="1576.3" r="6.5"/>
<circle cx="1245.8" cy="1576.3" r="6.5"/>
<circle cx="1349.5" cy="1576.3" r="6.5"/>
<circle cx="1126.9" cy="1588.9" r="6.5"/>
<circle cx="1142.4" cy="1588.9" r="6.5"/>
<circle cx="1151.9" cy="1588.9" r="6.5"/>
<circle cx="1197.2" cy="1588.9" r="6.5"/>
<circle cx="1205" cy="1588.9" r="6.5"/>
<circle cx="1212.1" cy="1588.9" r="6.5"/>
<circle cx="1252.4" cy="1588.9" r="6.5"/>
<circle cx="1266.4" cy="1588.9" r="6.5"/>
<circle cx="1143.3" cy="1601.6" r="6.5"/>
<circle cx="1202" cy="1601.6" r="6.5"/>
<circle cx="1289.3" cy="1601.6" r="6.5"/>
<circle cx="1116.2" cy="1614.3" r="6.5"/>
<circle cx="1154" cy="1614.3" r="6.5"/>
<circle cx="1167.7" cy="1614.3" r="6.5"/>
<circle cx="1180.3" cy="1614.3" r="6.5"/>
<circle cx="1196" cy="1614.3" r="6.5"/>
<circle cx="1211" cy="1614.3" r="6.5"/>
<circle cx="1227.3" cy="1614.3" r="6.5"/>
<circle cx="1231.8" cy="1614.3" r="6.5"/>
<circle cx="1295" cy="1614.3" r="6.5"/>
<circle cx="1176.7" cy="1626.9" r="6.5"/>
<circle cx="1189.2" cy="1626.9" r="6.5"/>
<circle cx="1209.8" cy="1626.9" r="6.5"/>
<circle cx="1242.2" cy="1626.9" r="6.5"/>
<circle cx="1261.9" cy="1626.9" r="6.5"/>
<circle cx="1164.8" cy="1639.6" r="6.5"/>
<circle cx="1194.3" cy="1639.6" r="6.5"/>
<circle cx="1235.4" cy="1639.6" r="6.5"/>
<circle cx="1238.4" cy="1639.6" r="6.5"/>
<circle cx="1273.2" cy="1639.6" r="6.5"/>
<circle cx="1163.3" cy="1652.3" r="6.5"/>
<circle cx="1181.1" cy="1652.3" r="6.5"/>
<circle cx="1190.7" cy="1652.3" r="6.5"/>
<circle cx="1199" cy="1652.3" r="6.5"/>
<circle cx="1277.7" cy="1652.3" r="6.5"/>
<circle cx="1169.8" cy="1664.9" r="6.5"/>
<circle cx="1180.5" cy="1664.9" r="6.5"/>
<circle cx="1208.6" cy="1664.9" r="6.5"/>
<circle cx="1113.5" cy="1677.6" r="6.5"/>
<circle cx="1181.7" cy="1677.6" r="6.5"/>
<circle cx="1187.7" cy="1677.6" r="6.5"/>
<circle cx="1213.3" cy="1677.6" r="6.5"/>
<circle cx="1255.4" cy="1677.6" r="6.5"/>
<circle cx="1254.2" cy="1690.3" r="6.5"/>
<circle cx="1272.1" cy="1690.3" r="6.5"/>
<circle cx="1278.6" cy="1690.3" r="6.5"/>
<circle cx="1288.1" cy="1690.3" r="6.5"/>
<circle cx="1166.5" cy="1702.9" r="6.5"/>
<circle cx="1190.1" cy="1702.9" r="6.5"/>
<circle cx="1240.2" cy="1715.6" r="6.5"/>
<circle cx="1298.3" cy="1740.9" r="6.5"/>
</g>
<path d="M1025.9 1521.7 L1039.4 1526.5 L1052.9 1531.3 L1066.4 1536.1 L1079.8 1540.9 L1093.3 1545.6 L1106.8 1550.2 L1120.3 1554.8 L1133.8 1559.2 L1147.2 1563.5 L1160.7 1567.5 L1174.2 1571.1 L1187.7 1574.1 L1201.2 1576.3 L1214.7 1577.3 L1228.2 1577.3 L1241.6 1576.5 L1255.1 1575.2 L1268.6 1573.5 L1282.1 1571.6 L1295.6 1569.5 L1309 1567.3 L1322.5 1565.1 L1336 1562.8 L1349.5 1560.5 L1349.5 1643.9 L1336 1639.1 L1322.5 1634.4 L1309 1629.8 L1295.6 1625.2 L1282.1 1620.7 L1268.6 1616.3 L1255.1 1612.2 L1241.6 1608.4 L1228.2 1605.2 L1214.7 1602.8 L1201.2 1601.4 L1187.7 1601.1 L1174.2 1601.6 L1160.7 1602.8 L1147.2 1604.4 L1133.8 1606.2 L1120.3 1608.3 L1106.8 1610.4 L1093.3 1612.6 L1079.8 1614.9 L1066.4 1617.2 L1052.9 1619.5 L1039.4 1621.9 L1025.9 1624.3Z" fill="#999" fill-opacity="0.4"/>
<line x1="1025.9" y1="1573" x2="1349.5" y2="1602.2" stroke="#000" stroke-width="5.8"/>
<path d="M1009.6 1395.3V1757H1365.6" fill="none" stroke="#000" stroke-width="3.0" stroke-linejoin="round"/>
<path d="M1024.3 1757v7.8M1124.5 1757v7.8M1224.7 1757v7.8M1324.9 1757v7.8M1009.6 1677.6h-7.8M1009.6 1550.9h-7.8M1009.6 1424.3h-7.8" fill="none" stroke="#333" stroke-width="2.3"/>
<g font-size="26.2" fill="#4D4D4D">
<text transform="translate(1024.3 1788.2) scale(0.918 1)" text-anchor="middle">-2</text>
<text transform="translate(1124.5 1788.2) scale(0.918 1)" text-anchor="middle">0</text>
<text transform="translate(1224.7 1788.2) scale(0.918 1)" text-anchor="middle">2</text>
<text transform="translate(1324.9 1788.2) scale(0.918 1)" text-anchor="middle">4</text>
<text transform="translate(996.1 1686.8) scale(0.918 1)" text-anchor="end">10</text>
<text transform="translate(996.1 1560.1) scale(0.918 1)" text-anchor="end">20</text>
<text transform="translate(996.1 1433.5) scale(0.918 1)" text-anchor="end">30</text>
</g>
<text transform="translate(1187.6 1823) scale(0.943 1)" text-anchor="middle" font-size="32.1" fill="#000">Hair Cortisol (log, pg/mg)</text>
<text transform="translate(956.5 1576.2) rotate(-90) scale(0.943 1)" text-anchor="middle" font-size="32.1" fill="#000">Symptom Burden</text>
</g>
<g>
<g fill="#FFA500">
<circle cx="341.3" cy="1876.2" r="6.5"/>
<circle cx="295" cy="1893.1" r="6.5"/>
<circle cx="350.6" cy="1893.1" r="6.5"/>
<circle cx="369.1" cy="1893.1" r="6.5"/>
<circle cx="258" cy="1910" r="6.5"/>
<circle cx="313.6" cy="1910" r="6.5"/>
<circle cx="322.8" cy="1910" r="6.5"/>
<circle cx="313.6" cy="1918.5" r="6.5"/>
<circle cx="248.7" cy="1927" r="6.5"/>
<circle cx="322.8" cy="1927" r="6.5"/>
<circle cx="424.7" cy="1927" r="6.5"/>
<circle cx="285.8" cy="1935.4" r="6.5"/>
<circle cx="387.6" cy="1935.4" r="6.5"/>
<circle cx="239.5" cy="1943.9" r="6.5"/>
<circle cx="295" cy="1943.9" r="6.5"/>
<circle cx="248.7" cy="1952.3" r="6.5"/>
<circle cx="276.5" cy="1960.8" r="6.5"/>
<circle cx="415.4" cy="1960.8" r="6.5"/>
<circle cx="239.5" cy="1969.3" r="6.5"/>
<circle cx="285.8" cy="1969.3" r="6.5"/>
<circle cx="313.6" cy="1969.3" r="6.5"/>
<circle cx="248.7" cy="1977.7" r="6.5"/>
<circle cx="258" cy="1977.7" r="6.5"/>
<circle cx="285.8" cy="1977.7" r="6.5"/>
<circle cx="230.2" cy="1994.6" r="6.5"/>
<circle cx="248.7" cy="1994.6" r="6.5"/>
<circle cx="248.7" cy="2003.1" r="6.5"/>
<circle cx="267.3" cy="2003.1" r="6.5"/>
<circle cx="341.3" cy="2003.1" r="6.5"/>
<circle cx="183.9" cy="2011.6" r="6.5"/>
<circle cx="285.8" cy="2011.6" r="6.5"/>
<circle cx="332.1" cy="2011.6" r="6.5"/>
<circle cx="350.6" cy="2011.6" r="6.5"/>
<circle cx="165.4" cy="2020" r="6.5"/>
<circle cx="202.4" cy="2020" r="6.5"/>
<circle cx="276.5" cy="2020" r="6.5"/>
<circle cx="304.3" cy="2020" r="6.5"/>
<circle cx="322.8" cy="2020" r="6.5"/>
<circle cx="183.9" cy="2028.5" r="6.5"/>
<circle cx="267.3" cy="2028.5" r="6.5"/>
<circle cx="350.6" cy="2028.5" r="6.5"/>
<circle cx="239.5" cy="2036.9" r="6.5"/>
<circle cx="322.8" cy="2036.9" r="6.5"/>
<circle cx="304.3" cy="2045.4" r="6.5"/>
<circle cx="258" cy="2053.9" r="6.5"/>
<circle cx="258" cy="2062.3" r="6.5"/>
<circle cx="285.8" cy="2062.3" r="6.5"/>
<circle cx="295" cy="2062.3" r="6.5"/>
<circle cx="183.9" cy="2070.8" r="6.5"/>
<circle cx="193.2" cy="2070.8" r="6.5"/>
<circle cx="248.7" cy="2070.8" r="6.5"/>
<circle cx="276.5" cy="2070.8" r="6.5"/>
<circle cx="313.6" cy="2070.8" r="6.5"/>
<circle cx="174.7" cy="2079.2" r="6.5"/>
<circle cx="221" cy="2079.2" r="6.5"/>
<circle cx="239.5" cy="2079.2" r="6.5"/>
<circle cx="258" cy="2079.2" r="6.5"/>
<circle cx="304.3" cy="2079.2" r="6.5"/>
<circle cx="313.6" cy="2079.2" r="6.5"/>
<circle cx="156.1" cy="2087.7" r="6.5"/>
<circle cx="239.5" cy="2087.7" r="6.5"/>
<circle cx="221" cy="2096.2" r="6.5"/>
<circle cx="239.5" cy="2096.2" r="6.5"/>
<circle cx="248.7" cy="2096.2" r="6.5"/>
<circle cx="322.8" cy="2096.2" r="6.5"/>
<circle cx="193.2" cy="2104.6" r="6.5"/>
<circle cx="211.7" cy="2104.6" r="6.5"/>
<circle cx="258" cy="2104.6" r="6.5"/>
<circle cx="341.3" cy="2104.6" r="6.5"/>
<circle cx="230.2" cy="2113.1" r="6.5"/>
<circle cx="276.5" cy="2113.1" r="6.5"/>
<circle cx="322.8" cy="2113.1" r="6.5"/>
<circle cx="193.2" cy="2130" r="6.5"/>
<circle cx="258" cy="2130" r="6.5"/>
<circle cx="341.3" cy="2130" r="6.5"/>
<circle cx="183.9" cy="2138.5" r="6.5"/>
<circle cx="202.4" cy="2138.5" r="6.5"/>
<circle cx="221" cy="2146.9" r="6.5"/>
<circle cx="146.9" cy="2155.4" r="6.5"/>
<circle cx="174.7" cy="2155.4" r="6.5"/>
<circle cx="174.7" cy="2163.8" r="6.5"/>
<circle cx="230.2" cy="2163.8" r="6.5"/>
<circle cx="146.9" cy="2180.8" r="6.5"/>
<circle cx="146.9" cy="2189.2" r="6.5"/>
<circle cx="258" cy="2189.2" r="6.5"/>
<circle cx="100.6" cy="2197.7" r="6.5"/>
<circle cx="183.9" cy="2206.1" r="6.5"/>
</g>
<path d="M100.5 2122.5 L114 2115.5 L127.5 2108.5 L141 2101.4 L154.5 2094.3 L168 2087.1 L181.5 2079.9 L195 2072.6 L208.5 2065.1 L222 2057.4 L235.5 2049.3 L249 2040.6 L262.5 2031.2 L276 2020.9 L289.5 2009.7 L303 1998 L316.5 1985.9 L330 1973.6 L343.5 1961.1 L357 1948.5 L370.5 1935.9 L384 1923.1 L397.5 1910.4 L411 1897.6 L424.5 1884.8 L424.5 1959.8 L411 1966.8 L397.5 1973.8 L384 1980.9 L370.5 1988 L357 1995.2 L343.5 2002.4 L330 2009.7 L316.5 2017.2 L303 2024.9 L289.5 2033 L276 2041.7 L262.5 2051.2 L249 2061.6 L235.5 2072.7 L222 2084.4 L208.5 2096.5 L195 2108.9 L181.5 2121.4 L168 2134 L154.5 2146.6 L141 2159.4 L127.5 2172.1 L114 2184.9 L100.5 2197.7Z" fill="#999" fill-opacity="0.4"/>
<line x1="100.5" y1="2160.1" x2="424.5" y2="1922.3" stroke="#000" stroke-width="5.8"/>
<path d="M84.9 1859.9V2222H440.9" fill="none" stroke="#000" stroke-width="3.0" stroke-linejoin="round"/>
<path d="M165.4 2222v7.8M258 2222v7.8M350.6 2222v7.8M84.9 2172.3h-7.8M84.9 2087.7h-7.8M84.9 2003.1h-7.8M84.9 1918.5h-7.8" fill="none" stroke="#333" stroke-width="2.3"/>
<g font-size="26.2" fill="#4D4D4D">
<text transform="translate(165.4 2253.2) scale(0.918 1)" text-anchor="middle">10</text>
<text transform="translate(258 2253.2) scale(0.918 1)" text-anchor="middle">20</text>
<text transform="translate(350.6 2253.2) scale(0.918 1)" text-anchor="middle">30</text>
<text transform="translate(71.4 2181.5) scale(0.918 1)" text-anchor="end">10</text>
<text transform="translate(71.4 2096.9) scale(0.918 1)" text-anchor="end">20</text>
<text transform="translate(71.4 2012.3) scale(0.918 1)" text-anchor="end">30</text>
<text transform="translate(71.4 1927.7) scale(0.918 1)" text-anchor="end">40</text>
</g>
<text transform="translate(262.9 2288) scale(0.943 1)" text-anchor="middle" font-size="32.1" fill="#000">Perceived Stress</text>
<text transform="translate(31 2041) rotate(-90) scale(0.943 1)" text-anchor="middle" font-size="32.1" fill="#000">Bodily Distress</text>
</g>
<g>
<g fill="#FFA500">
<circle cx="747.3" cy="1876.2" r="6.5"/>
<circle cx="603.9" cy="1893.1" r="6.5"/>
<circle cx="791.7" cy="1893.1" r="6.5"/>
<circle cx="794.7" cy="1893.1" r="6.5"/>
<circle cx="645.1" cy="1910" r="6.5"/>
<circle cx="705.9" cy="1910" r="6.5"/>
<circle cx="731.2" cy="1910" r="6.5"/>
<circle cx="758" cy="1910" r="6.5"/>
<circle cx="763.4" cy="1918.5" r="6.5"/>
<circle cx="624.5" cy="1927" r="6.5"/>
<circle cx="723.1" cy="1927" r="6.5"/>
<circle cx="829.3" cy="1927" r="6.5"/>
<circle cx="635.8" cy="1935.4" r="6.5"/>
<circle cx="777.1" cy="1935.4" r="6.5"/>
<circle cx="699" cy="1943.9" r="6.5"/>
<circle cx="736.9" cy="1943.9" r="6.5"/>
<circle cx="794.1" cy="1952.3" r="6.5"/>
<circle cx="763.4" cy="1960.8" r="6.5"/>
<circle cx="766.4" cy="1960.8" r="6.5"/>
<circle cx="800.6" cy="1960.8" r="6.5"/>
<circle cx="806" cy="1960.8" r="6.5"/>
<circle cx="563.4" cy="1969.3" r="6.5"/>
<circle cx="621.5" cy="1969.3" r="6.5"/>
<circle cx="749.4" cy="1969.3" r="6.5"/>
<circle cx="777.4" cy="1969.3" r="6.5"/>
<circle cx="782.8" cy="1969.3" r="6.5"/>
<circle cx="602.1" cy="1977.7" r="6.5"/>
<circle cx="773.8" cy="1977.7" r="6.5"/>
<circle cx="804.5" cy="1977.7" r="6.5"/>
<circle cx="818.5" cy="1994.6" r="6.5"/>
<circle cx="842.4" cy="1994.6" r="6.5"/>
<circle cx="744" cy="2003.1" r="6.5"/>
<circle cx="748.5" cy="2003.1" r="6.5"/>
<circle cx="766.7" cy="2003.1" r="6.5"/>
<circle cx="831.3" cy="2003.1" r="6.5"/>
<circle cx="683.5" cy="2011.6" r="6.5"/>
<circle cx="729.7" cy="2011.6" r="6.5"/>
<circle cx="795.3" cy="2011.6" r="6.5"/>
<circle cx="583.1" cy="2020" r="6.5"/>
<circle cx="766.4" cy="2020" r="6.5"/>
<circle cx="772" cy="2020" r="6.5"/>
<circle cx="782.8" cy="2020" r="6.5"/>
<circle cx="685.6" cy="2028.5" r="6.5"/>
<circle cx="697.8" cy="2028.5" r="6.5"/>
<circle cx="718.4" cy="2028.5" r="6.5"/>
<circle cx="737.2" cy="2028.5" r="6.5"/>
<circle cx="729.1" cy="2036.9" r="6.5"/>
<circle cx="743.7" cy="2036.9" r="6.5"/>
<circle cx="764.9" cy="2036.9" r="6.5"/>
<circle cx="791.1" cy="2036.9" r="6.5"/>
<circle cx="692.4" cy="2045.4" r="6.5"/>
<circle cx="802.4" cy="2053.9" r="6.5"/>
<circle cx="699" cy="2062.3" r="6.5"/>
<circle cx="770.8" cy="2062.3" r="6.5"/>
<circle cx="788.7" cy="2062.3" r="6.5"/>
<circle cx="679.6" cy="2070.8" r="6.5"/>
<circle cx="702.9" cy="2070.8" r="6.5"/>
<circle cx="751.2" cy="2070.8" r="6.5"/>
<circle cx="759.5" cy="2070.8" r="6.5"/>
<circle cx="765.5" cy="2070.8" r="6.5"/>
<circle cx="691" cy="2079.2" r="6.5"/>
<circle cx="738" cy="2079.2" r="6.5"/>
<circle cx="757.4" cy="2079.2" r="6.5"/>
<circle cx="775" cy="2079.2" r="6.5"/>
<circle cx="787.8" cy="2079.2" r="6.5"/>
<circle cx="798.9" cy="2079.2" r="6.5"/>
<circle cx="591.4" cy="2087.7" r="6.5"/>
<circle cx="723.1" cy="2087.7" r="6.5"/>
<circle cx="740.7" cy="2096.2" r="6.5"/>
<circle cx="786.9" cy="2096.2" r="6.5"/>
<circle cx="811.1" cy="2096.2" r="6.5"/>
<circle cx="816.1" cy="2096.2" r="6.5"/>
<circle cx="761.6" cy="2104.6" r="6.5"/>
<circle cx="789.3" cy="2104.6" r="6.5"/>
<circle cx="821.2" cy="2104.6" r="6.5"/>
<circle cx="887.1" cy="2104.6" r="6.5"/>
<circle cx="691" cy="2113.1" r="6.5"/>
<circle cx="710.9" cy="2113.1" r="6.5"/>
<circle cx="770.2" cy="2113.1" r="6.5"/>
<circle cx="829.9" cy="2113.1" r="6.5"/>
<circle cx="723.7" cy="2130" r="6.5"/>
<circle cx="736.3" cy="2130" r="6.5"/>
<circle cx="739.2" cy="2130" r="6.5"/>
<circle cx="766.1" cy="2130" r="6.5"/>
<circle cx="842.4" cy="2130" r="6.5"/>
<circle cx="667.1" cy="2138.5" r="6.5"/>
<circle cx="793.8" cy="2138.5" r="6.5"/>
<circle cx="632.8" cy="2146.9" r="6.5"/>
<circle cx="650.7" cy="2155.4" r="6.5"/>
<circle cx="693.3" cy="2155.4" r="6.5"/>
<circle cx="706.5" cy="2163.8" r="6.5"/>
<circle cx="774.7" cy="2163.8" r="6.5"/>
<circle cx="770.2" cy="2180.8" r="6.5"/>
<circle cx="769" cy="2189.2" r="6.5"/>
<circle cx="785.7" cy="2189.2" r="6.5"/>
<circle cx="723.4" cy="2197.7" r="6.5"/>
<circle cx="699.3" cy="2206.1" r="6.5"/>
</g>
<path d="M563.4 1972.3 L576.9 1977 L590.4 1981.7 L603.9 1986.4 L617.4 1991 L630.8 1995.5 L644.3 2000 L657.8 2004.4 L671.3 2008.6 L684.8 2012.7 L698.3 2016.4 L711.8 2019.7 L725.2 2022.4 L738.7 2024.3 L752.2 2025.3 L765.7 2025.5 L779.2 2025 L792.7 2024 L806.2 2022.7 L819.7 2021.2 L833.2 2019.5 L846.6 2017.7 L860.1 2015.8 L873.6 2013.9 L887.1 2011.9 L887.1 2093.9 L873.6 2089.3 L860.1 2084.7 L846.6 2080.1 L833.2 2075.7 L819.7 2071.3 L806.2 2067.1 L792.7 2063.2 L779.2 2059.6 L765.7 2056.4 L752.2 2053.9 L738.7 2052.3 L725.2 2051.5 L711.8 2051.6 L698.3 2052.2 L684.8 2053.3 L671.3 2054.6 L657.8 2056.2 L644.3 2057.9 L630.8 2059.8 L617.4 2061.7 L603.9 2063.6 L590.4 2065.6 L576.9 2067.6 L563.4 2069.7Z" fill="#999" fill-opacity="0.4"/>
<line x1="563.4" y1="2021" x2="887.1" y2="2052.9" stroke="#000" stroke-width="5.8"/>
<path d="M547.4 1859.9V2222H903.2" fill="none" stroke="#000" stroke-width="3.0" stroke-linejoin="round"/>
<path d="M597.8 2222v7.8M693 2222v7.8M788.2 2222v7.8M883.4 2222v7.8M547.4 2172.3h-7.8M547.4 2087.7h-7.8M547.4 2003.1h-7.8M547.4 1918.5h-7.8" fill="none" stroke="#333" stroke-width="2.3"/>
<g font-size="26.2" fill="#4D4D4D">
<text transform="translate(597.8 2253.2) scale(0.918 1)" text-anchor="middle">-1</text>
<text transform="translate(693 2253.2) scale(0.918 1)" text-anchor="middle">0</text>
<text transform="translate(788.2 2253.2) scale(0.918 1)" text-anchor="middle">1</text>
<text transform="translate(883.4 2253.2) scale(0.918 1)" text-anchor="middle">2</text>
<text transform="translate(533.9 2181.5) scale(0.918 1)" text-anchor="end">10</text>
<text transform="translate(533.9 2096.9) scale(0.918 1)" text-anchor="end">20</text>
<text transform="translate(533.9 2012.3) scale(0.918 1)" text-anchor="end">30</text>
<text transform="translate(533.9 1927.7) scale(0.918 1)" text-anchor="end">40</text>
</g>
<text transform="translate(725.3 2288) scale(0.943 1)" text-anchor="middle" font-size="32.1" fill="#000">Salivary Cortisol (log, pg/ml)</text>
<text transform="translate(492.6 2041) rotate(-90) scale(0.943 1)" text-anchor="middle" font-size="32.1" fill="#000">Bodily Distress</text>
</g>
<g>
<g fill="#FFA500">
<circle cx="1303.4" cy="1876.2" r="6.5"/>
<circle cx="1188.9" cy="1893.1" r="6.5"/>
<circle cx="1245.8" cy="1893.1" r="6.5"/>
<circle cx="1257.7" cy="1893.1" r="6.5"/>
<circle cx="1173.4" cy="1910" r="6.5"/>
<circle cx="1184.1" cy="1910" r="6.5"/>
<circle cx="1303.9" cy="1910" r="6.5"/>
<circle cx="1245.8" cy="1918.5" r="6.5"/>
<circle cx="1025.9" cy="1927" r="6.5"/>
<circle cx="1230.9" cy="1927" r="6.5"/>
<circle cx="1240.2" cy="1927" r="6.5"/>
<circle cx="1186.8" cy="1935.4" r="6.5"/>
<circle cx="1199" cy="1935.4" r="6.5"/>
<circle cx="1160" cy="1943.9" r="6.5"/>
<circle cx="1197.5" cy="1943.9" r="6.5"/>
<circle cx="1171.6" cy="1952.3" r="6.5"/>
<circle cx="1143.3" cy="1960.8" r="6.5"/>
<circle cx="1149.8" cy="1960.8" r="6.5"/>
<circle cx="1164.5" cy="1960.8" r="6.5"/>
<circle cx="1293.2" cy="1960.8" r="6.5"/>
<circle cx="1166.5" cy="1969.3" r="6.5"/>
<circle cx="1213.3" cy="1969.3" r="6.5"/>
<circle cx="1242.2" cy="1969.3" r="6.5"/>
<circle cx="1295" cy="1969.3" r="6.5"/>
<circle cx="1174.9" cy="1977.7" r="6.5"/>
<circle cx="1180.3" cy="1977.7" r="6.5"/>
<circle cx="1252.4" cy="1977.7" r="6.5"/>
<circle cx="1163" cy="1994.6" r="6.5"/>
<circle cx="1167.7" cy="1994.6" r="6.5"/>
<circle cx="1177.3" cy="2003.1" r="6.5"/>
<circle cx="1183.8" cy="2003.1" r="6.5"/>
<circle cx="1266.1" cy="2003.1" r="6.5"/>
<circle cx="1149" cy="2011.6" r="6.5"/>
<circle cx="1154" cy="2011.6" r="6.5"/>
<circle cx="1164.2" cy="2011.6" r="6.5"/>
<circle cx="1243.7" cy="2011.6" r="6.5"/>
<circle cx="1126.6" cy="2020" r="6.5"/>
<circle cx="1188.9" cy="2020" r="6.5"/>
<circle cx="1202" cy="2020" r="6.5"/>
<circle cx="1208.6" cy="2020" r="6.5"/>
<circle cx="1349.3" cy="2020" r="6.5"/>
<circle cx="1213.9" cy="2028.5" r="6.5"/>
<circle cx="1227.3" cy="2028.5" r="6.5"/>
<circle cx="1231.8" cy="2028.5" r="6.5"/>
<circle cx="1251.8" cy="2028.5" r="6.5"/>
<circle cx="1153.1" cy="2036.9" r="6.5"/>
<circle cx="1180.5" cy="2036.9" r="6.5"/>
<circle cx="1198.1" cy="2036.9" r="6.5"/>
<circle cx="1251.8" cy="2045.4" r="6.5"/>
<circle cx="1180.5" cy="2053.9" r="6.5"/>
<circle cx="1180.3" cy="2062.3" r="6.5"/>
<circle cx="1196.3" cy="2062.3" r="6.5"/>
<circle cx="1237.8" cy="2062.3" r="6.5"/>
<circle cx="1161.5" cy="2070.8" r="6.5"/>
<circle cx="1174.3" cy="2070.8" r="6.5"/>
<circle cx="1208" cy="2070.8" r="6.5"/>
<circle cx="1211" cy="2070.8" r="6.5"/>
<circle cx="1298.6" cy="2070.8" r="6.5"/>
<circle cx="1142.4" cy="2079.2" r="6.5"/>
<circle cx="1169.5" cy="2079.2" r="6.5"/>
<circle cx="1193.7" cy="2079.2" r="6.5"/>
<circle cx="1255.4" cy="2079.2" r="6.5"/>
<circle cx="1272.6" cy="2079.2" r="6.5"/>
<circle cx="1289.3" cy="2079.2" r="6.5"/>
<circle cx="1176.4" cy="2087.7" r="6.5"/>
<circle cx="1181.7" cy="2087.7" r="6.5"/>
<circle cx="1199" cy="2096.2" r="6.5"/>
<circle cx="1243.7" cy="2096.2" r="6.5"/>
<circle cx="1254.2" cy="2096.2" r="6.5"/>
<circle cx="1277.7" cy="2096.2" r="6.5"/>
<circle cx="1113.5" cy="2104.6" r="6.5"/>
<circle cx="1163.3" cy="2104.6" r="6.5"/>
<circle cx="1244.3" cy="2104.6" r="6.5"/>
<circle cx="1278" cy="2104.6" r="6.5"/>
<circle cx="1174.9" cy="2113.1" r="6.5"/>
<circle cx="1181.7" cy="2113.1" r="6.5"/>
<circle cx="1204.7" cy="2113.1" r="6.5"/>
<circle cx="1235.4" cy="2113.1" r="6.5"/>
<circle cx="1143.3" cy="2130" r="6.5"/>
<circle cx="1236.6" cy="2130" r="6.5"/>
<circle cx="1272.9" cy="2130" r="6.5"/>
<circle cx="1287.6" cy="2130" r="6.5"/>
<circle cx="1300.1" cy="2130" r="6.5"/>
<circle cx="1181.7" cy="2138.5" r="6.5"/>
<circle cx="1190.7" cy="2138.5" r="6.5"/>
<circle cx="1261.9" cy="2146.9" r="6.5"/>
<circle cx="1116.5" cy="2155.4" r="6.5"/>
<circle cx="1190.1" cy="2155.4" r="6.5"/>
<circle cx="1198.7" cy="2163.8" r="6.5"/>
<circle cx="1202.6" cy="2163.8" r="6.5"/>
<circle cx="1211.5" cy="2180.8" r="6.5"/>
<circle cx="1177.9" cy="2189.2" r="6.5"/>
<circle cx="1211" cy="2189.2" r="6.5"/>
<circle cx="1166.5" cy="2197.7" r="6.5"/>
<circle cx="1164.8" cy="2206.1" r="6.5"/>
</g>
<path d="M1025.9 1980.6 L1039.4 1984.6 L1052.9 1988.6 L1066.4 1992.6 L1079.8 1996.5 L1093.3 2000.4 L1106.8 2004.2 L1120.3 2007.8 L1133.8 2011.4 L1147.2 2014.6 L1160.7 2017.6 L1174.2 2020.1 L1187.7 2021.9 L1201.2 2022.7 L1214.7 2022.4 L1228.2 2021.1 L1241.6 2018.9 L1255.1 2016 L1268.6 2012.7 L1282.1 2009.2 L1295.6 2005.4 L1309 2001.6 L1322.5 1997.6 L1336 1993.5 L1349.5 1989.4 L1349.5 2086.6 L1336 2082.7 L1322.5 2078.8 L1309 2075 L1295.6 2071.3 L1282.1 2067.7 L1268.6 2064.3 L1255.1 2061.2 L1241.6 2058.5 L1228.2 2056.5 L1214.7 2055.3 L1201.2 2055.2 L1187.7 2056.2 L1174.2 2058.2 L1160.7 2060.8 L1147.2 2064 L1133.8 2067.4 L1120.3 2071.1 L1106.8 2075 L1093.3 2078.9 L1079.8 2083 L1066.4 2087.1 L1052.9 2091.2 L1039.4 2095.4 L1025.9 2099.6Z" fill="#999" fill-opacity="0.4"/>
<line x1="1025.9" y1="2040.1" x2="1349.5" y2="2038" stroke="#000" stroke-width="5.8"/>
<path d="M1009.6 1859.9V2222H1365.6" fill="none" stroke="#000" stroke-width="3.0" stroke-linejoin="round"/>
<path d="M1024.3 2222v7.8M1124.5 2222v7.8M1224.7 2222v7.8M1324.9 2222v7.8M1009.6 2172.3h-7.8M1009.6 2087.7h-7.8M1009.6 2003.1h-7.8M1009.6 1918.5h-7.8" fill="none" stroke="#333" stroke-width="2.3"/>
<g font-size="26.2" fill="#4D4D4D">
<text transform="translate(1024.3 2253.2) scale(0.918 1)" text-anchor="middle">-2</text>
<text transform="translate(1124.5 2253.2) scale(0.918 1)" text-anchor="middle">0</text>
<text transform="translate(1224.7 2253.2) scale(0.918 1)" text-anchor="middle">2</text>
<text transform="translate(1324.9 2253.2) scale(0.918 1)" text-anchor="middle">4</text>
<text transform="translate(996.1 2181.5) scale(0.918 1)" text-anchor="end">10</text>
<text transform="translate(996.1 2096.9) scale(0.918 1)" text-anchor="end">20</text>
<text transform="translate(996.1 2012.3) scale(0.918 1)" text-anchor="end">30</text>
<text transform="translate(996.1 1927.7) scale(0.918 1)" text-anchor="end">40</text>
</g>
<text transform="translate(1187.6 2288) scale(0.943 1)" text-anchor="middle" font-size="32.1" fill="#000">Hair Cortisol (log, pg/mg)</text>
<text transform="translate(956.5 2041) rotate(-90) scale(0.943 1)" text-anchor="middle" font-size="32.1" fill="#000">Bodily Distress</text>
</g>
<g>
<g fill="#FFA500">
<circle cx="146.9" cy="2342.7" r="6.5"/>
<circle cx="165.4" cy="2342.7" r="6.5"/>
<circle cx="193.2" cy="2342.7" r="6.5"/>
<circle cx="239.5" cy="2342.7" r="6.5"/>
<circle cx="258" cy="2342.7" r="6.5"/>
<circle cx="267.3" cy="2342.7" r="6.5"/>
<circle cx="285.8" cy="2342.7" r="6.5"/>
<circle cx="295" cy="2342.7" r="6.5"/>
<circle cx="322.8" cy="2342.7" r="6.5"/>
<circle cx="350.6" cy="2342.7" r="6.5"/>
<circle cx="221" cy="2361" r="6.5"/>
<circle cx="313.6" cy="2361" r="6.5"/>
<circle cx="193.2" cy="2379.3" r="6.5"/>
<circle cx="211.7" cy="2379.3" r="6.5"/>
<circle cx="248.7" cy="2379.3" r="6.5"/>
<circle cx="295" cy="2379.3" r="6.5"/>
<circle cx="322.8" cy="2379.3" r="6.5"/>
<circle cx="332.1" cy="2379.3" r="6.5"/>
<circle cx="387.6" cy="2379.3" r="6.5"/>
<circle cx="415.4" cy="2379.3" r="6.5"/>
<circle cx="146.9" cy="2397.7" r="6.5"/>
<circle cx="239.5" cy="2397.7" r="6.5"/>
<circle cx="248.7" cy="2397.7" r="6.5"/>
<circle cx="258" cy="2397.7" r="6.5"/>
<circle cx="202.4" cy="2416" r="6.5"/>
<circle cx="221" cy="2416" r="6.5"/>
<circle cx="248.7" cy="2416" r="6.5"/>
<circle cx="267.3" cy="2416" r="6.5"/>
<circle cx="276.5" cy="2416" r="6.5"/>
<circle cx="313.6" cy="2416" r="6.5"/>
<circle cx="322.8" cy="2416" r="6.5"/>
<circle cx="424.7" cy="2416" r="6.5"/>
<circle cx="156.1" cy="2434.3" r="6.5"/>
<circle cx="174.7" cy="2434.3" r="6.5"/>
<circle cx="193.2" cy="2434.3" r="6.5"/>
<circle cx="230.2" cy="2434.3" r="6.5"/>
<circle cx="239.5" cy="2434.3" r="6.5"/>
<circle cx="248.7" cy="2434.3" r="6.5"/>
<circle cx="258" cy="2434.3" r="6.5"/>
<circle cx="295" cy="2434.3" r="6.5"/>
<circle cx="304.3" cy="2434.3" r="6.5"/>
<circle cx="313.6" cy="2434.3" r="6.5"/>
<circle cx="322.8" cy="2434.3" r="6.5"/>
<circle cx="174.7" cy="2452.6" r="6.5"/>
<circle cx="183.9" cy="2452.6" r="6.5"/>
<circle cx="239.5" cy="2452.6" r="6.5"/>
<circle cx="258" cy="2452.6" r="6.5"/>
<circle cx="322.8" cy="2452.6" r="6.5"/>
<circle cx="350.6" cy="2452.6" r="6.5"/>
<circle cx="146.9" cy="2470.9" r="6.5"/>
<circle cx="174.7" cy="2470.9" r="6.5"/>
<circle cx="183.9" cy="2470.9" r="6.5"/>
<circle cx="239.5" cy="2470.9" r="6.5"/>
<circle cx="248.7" cy="2470.9" r="6.5"/>
<circle cx="258" cy="2470.9" r="6.5"/>
<circle cx="285.8" cy="2470.9" r="6.5"/>
<circle cx="313.6" cy="2470.9" r="6.5"/>
<circle cx="202.4" cy="2489.2" r="6.5"/>
<circle cx="258" cy="2489.2" r="6.5"/>
<circle cx="276.5" cy="2489.2" r="6.5"/>
<circle cx="285.8" cy="2489.2" r="6.5"/>
<circle cx="322.8" cy="2489.2" r="6.5"/>
<circle cx="248.7" cy="2507.5" r="6.5"/>
<circle cx="341.3" cy="2507.5" r="6.5"/>
<circle cx="230.2" cy="2525.8" r="6.5"/>
<circle cx="276.5" cy="2525.8" r="6.5"/>
<circle cx="304.3" cy="2525.8" r="6.5"/>
<circle cx="341.3" cy="2525.8" r="6.5"/>
<circle cx="304.3" cy="2544.1" r="6.5"/>
<circle cx="350.6" cy="2544.1" r="6.5"/>
<circle cx="369.1" cy="2544.1" r="6.5"/>
<circle cx="221" cy="2562.4" r="6.5"/>
<circle cx="285.8" cy="2562.4" r="6.5"/>
<circle cx="183.9" cy="2580.8" r="6.5"/>
<circle cx="248.7" cy="2580.8" r="6.5"/>
<circle cx="276.5" cy="2599.1" r="6.5"/>
<circle cx="313.6" cy="2599.1" r="6.5"/>
<circle cx="258" cy="2617.4" r="6.5"/>
<circle cx="239.5" cy="2635.7" r="6.5"/>
<circle cx="322.8" cy="2635.7" r="6.5"/>
<circle cx="341.3" cy="2654" r="6.5"/>
<circle cx="100.6" cy="2672.3" r="6.5"/>
<circle cx="258" cy="2672.3" r="6.5"/>
<circle cx="276.5" cy="2672.3" r="6.5"/>
<circle cx="341.3" cy="2672.3" r="6.5"/>
</g>
<path d="M100.5 2404 L114 2408 L127.5 2412 L141 2415.9 L154.5 2419.7 L168 2423.4 L181.5 2427 L195 2430.4 L208.5 2433.6 L222 2436.4 L235.5 2438.8 L249 2440.6 L262.5 2441.7 L276 2442 L289.5 2441.6 L303 2440.5 L316.5 2438.9 L330 2436.9 L343.5 2434.6 L357 2432.2 L370.5 2429.6 L384 2426.9 L397.5 2424.1 L411 2421.2 L424.5 2418.3 L424.5 2513.1 L411 2509.1 L397.5 2505.2 L384 2501.3 L370.5 2497.5 L357 2493.8 L343.5 2490.3 L330 2487 L316.5 2483.9 L303 2481.2 L289.5 2479.1 L276 2477.5 L262.5 2476.8 L249 2476.8 L235.5 2477.5 L222 2478.8 L208.5 2480.6 L195 2482.7 L181.5 2485 L168 2487.6 L154.5 2490.2 L141 2493 L127.5 2495.8 L114 2498.7 L100.5 2501.6Z" fill="#999" fill-opacity="0.4"/>
<line x1="100.5" y1="2452.8" x2="424.5" y2="2465.7" stroke="#000" stroke-width="5.8"/>
<path d="M84.9 2325.4V2688.8H440.9" fill="none" stroke="#000" stroke-width="3.0" stroke-linejoin="round"/>
<path d="M165.4 2688.8v7.8M258 2688.8v7.8M350.6 2688.8v7.8M84.9 2672.3h-7.8M84.9 2580.8h-7.8M84.9 2489.2h-7.8M84.9 2397.7h-7.8" fill="none" stroke="#333" stroke-width="2.3"/>
<g font-size="26.2" fill="#4D4D4D">
<text transform="translate(165.4 2720) scale(0.918 1)" text-anchor="middle">10</text>
<text transform="translate(258 2720) scale(0.918 1)" text-anchor="middle">20</text>
<text transform="translate(350.6 2720) scale(0.918 1)" text-anchor="middle">30</text>
<text transform="translate(71.4 2681.5) scale(0.918 1)" text-anchor="end">0</text>
<text transform="translate(71.4 2589.9) scale(0.918 1)" text-anchor="end">5</text>
<text transform="translate(71.4 2498.4) scale(0.918 1)" text-anchor="end">10</text>
<text transform="translate(71.4 2406.8) scale(0.918 1)" text-anchor="end">15</text>
</g>
<text transform="translate(262.9 2754.8) scale(0.943 1)" text-anchor="middle" font-size="32.1" fill="#000">Perceived Stress</text>
<text transform="translate(31 2507.2) rotate(-90) scale(0.943 1)" text-anchor="middle" font-size="32.1" fill="#000">Tenderness</text>
</g>
<g>
<g fill="#FFA500">
<circle cx="563.4" cy="2342.7" r="6.5"/>
<circle cx="583.1" cy="2342.7" r="6.5"/>
<circle cx="603.9" cy="2342.7" r="6.5"/>
<circle cx="645.1" cy="2342.7" r="6.5"/>
<circle cx="710.9" cy="2342.7" r="6.5"/>
<circle cx="718.4" cy="2342.7" r="6.5"/>
<circle cx="729.1" cy="2342.7" r="6.5"/>
<circle cx="734.2" cy="2342.7" r="6.5"/>
<circle cx="738.6" cy="2342.7" r="6.5"/>
<circle cx="769.3" cy="2342.7" r="6.5"/>
<circle cx="782.8" cy="2342.7" r="6.5"/>
<circle cx="731.2" cy="2361" r="6.5"/>
<circle cx="740.7" cy="2361" r="6.5"/>
<circle cx="683.5" cy="2379.3" r="6.5"/>
<circle cx="698.4" cy="2379.3" r="6.5"/>
<circle cx="705.9" cy="2379.3" r="6.5"/>
<circle cx="761.6" cy="2379.3" r="6.5"/>
<circle cx="777.4" cy="2379.3" r="6.5"/>
<circle cx="788.7" cy="2379.3" r="6.5"/>
<circle cx="794.7" cy="2379.3" r="6.5"/>
<circle cx="806" cy="2379.3" r="6.5"/>
<circle cx="770.5" cy="2397.7" r="6.5"/>
<circle cx="787.8" cy="2397.7" r="6.5"/>
<circle cx="791.4" cy="2397.7" r="6.5"/>
<circle cx="842.4" cy="2397.7" r="6.5"/>
<circle cx="624.5" cy="2416" r="6.5"/>
<circle cx="632.8" cy="2416" r="6.5"/>
<circle cx="697.5" cy="2416" r="6.5"/>
<circle cx="744.3" cy="2416" r="6.5"/>
<circle cx="758" cy="2416" r="6.5"/>
<circle cx="765.5" cy="2416" r="6.5"/>
<circle cx="769.9" cy="2416" r="6.5"/>
<circle cx="801.5" cy="2416" r="6.5"/>
<circle cx="702.3" cy="2434.3" r="6.5"/>
<circle cx="706.5" cy="2434.3" r="6.5"/>
<circle cx="723.7" cy="2434.3" r="6.5"/>
<circle cx="743.7" cy="2434.3" r="6.5"/>
<circle cx="757.4" cy="2434.3" r="6.5"/>
<circle cx="760.4" cy="2434.3" r="6.5"/>
<circle cx="769.9" cy="2434.3" r="6.5"/>
<circle cx="773.8" cy="2434.3" r="6.5"/>
<circle cx="782.8" cy="2434.3" r="6.5"/>
<circle cx="787.8" cy="2434.3" r="6.5"/>
<circle cx="798.9" cy="2434.3" r="6.5"/>
<circle cx="803" cy="2434.3" r="6.5"/>
<circle cx="818.5" cy="2434.3" r="6.5"/>
<circle cx="621.5" cy="2452.6" r="6.5"/>
<circle cx="650.7" cy="2452.6" r="6.5"/>
<circle cx="667.1" cy="2452.6" r="6.5"/>
<circle cx="685.6" cy="2452.6" r="6.5"/>
<circle cx="729.7" cy="2452.6" r="6.5"/>
<circle cx="788.1" cy="2452.6" r="6.5"/>
<circle cx="795.3" cy="2452.6" r="6.5"/>
<circle cx="811.4" cy="2452.6" r="6.5"/>
<circle cx="591.4" cy="2470.9" r="6.5"/>
<circle cx="602.4" cy="2470.9" r="6.5"/>
<circle cx="679" cy="2470.9" r="6.5"/>
<circle cx="684.1" cy="2470.9" r="6.5"/>
<circle cx="693.3" cy="2470.9" r="6.5"/>
<circle cx="699.3" cy="2470.9" r="6.5"/>
<circle cx="737.7" cy="2470.9" r="6.5"/>
<circle cx="763.4" cy="2470.9" r="6.5"/>
<circle cx="768.5" cy="2470.9" r="6.5"/>
<circle cx="774.4" cy="2470.9" r="6.5"/>
<circle cx="886.8" cy="2470.9" r="6.5"/>
<circle cx="699" cy="2489.2" r="6.5"/>
<circle cx="766.1" cy="2489.2" r="6.5"/>
<circle cx="770.8" cy="2489.2" r="6.5"/>
<circle cx="778" cy="2489.2" r="6.5"/>
<circle cx="793.5" cy="2489.2" r="6.5"/>
<circle cx="804.2" cy="2489.2" r="6.5"/>
<circle cx="829.6" cy="2489.2" r="6.5"/>
<circle cx="722.8" cy="2507.5" r="6.5"/>
<circle cx="842.1" cy="2507.5" r="6.5"/>
<circle cx="690.4" cy="2525.8" r="6.5"/>
<circle cx="693" cy="2525.8" r="6.5"/>
<circle cx="747" cy="2525.8" r="6.5"/>
<circle cx="765.8" cy="2525.8" r="6.5"/>
<circle cx="774.7" cy="2544.1" r="6.5"/>
<circle cx="791.7" cy="2544.1" r="6.5"/>
<circle cx="794.7" cy="2544.1" r="6.5"/>
<circle cx="635.8" cy="2562.4" r="6.5"/>
<circle cx="691" cy="2562.4" r="6.5"/>
<circle cx="737.2" cy="2580.8" r="6.5"/>
<circle cx="831.3" cy="2580.8" r="6.5"/>
<circle cx="749.1" cy="2599.1" r="6.5"/>
<circle cx="764.3" cy="2599.1" r="6.5"/>
<circle cx="737.5" cy="2617.4" r="6.5"/>
<circle cx="816.1" cy="2635.7" r="6.5"/>
<circle cx="829" cy="2635.7" r="6.5"/>
<circle cx="748.5" cy="2654" r="6.5"/>
<circle cx="723.7" cy="2672.3" r="6.5"/>
<circle cx="751.8" cy="2672.3" r="6.5"/>
<circle cx="785.4" cy="2672.3" r="6.5"/>
<circle cx="821.2" cy="2672.3" r="6.5"/>
</g>
<path d="M563.4 2355.4 L576.9 2362.8 L590.4 2370.2 L603.8 2377.6 L617.3 2384.9 L630.8 2392.2 L644.2 2399.3 L657.7 2406.4 L671.2 2413.3 L684.7 2420 L698.1 2426.4 L711.6 2432.4 L725.1 2437.8 L738.6 2442.5 L752 2446.4 L765.5 2449.4 L779 2451.8 L792.5 2453.6 L805.9 2455 L819.4 2456.2 L832.9 2457.2 L846.4 2458 L859.8 2458.8 L873.3 2459.5 L886.8 2460.1 L886.8 2543.5 L873.3 2536.2 L859.8 2528.9 L846.4 2521.7 L832.9 2514.6 L819.4 2507.6 L805.9 2500.9 L792.5 2494.4 L779 2488.2 L765.5 2482.6 L752 2477.7 L738.6 2473.6 L725.1 2470.4 L711.6 2467.8 L698.1 2465.9 L684.7 2464.3 L671.2 2463.1 L657.7 2462.1 L644.2 2461.2 L630.8 2460.4 L617.3 2459.7 L603.8 2459.1 L590.4 2458.5 L576.9 2457.9 L563.4 2457.4Z" fill="#999" fill-opacity="0.4"/>
<line x1="563.4" y1="2406.4" x2="886.8" y2="2501.8" stroke="#000" stroke-width="5.8"/>
<path d="M547.4 2325.4V2688.8H903.2" fill="none" stroke="#000" stroke-width="3.0" stroke-linejoin="round"/>
<path d="M597.8 2688.8v7.8M693 2688.8v7.8M788.2 2688.8v7.8M883.4 2688.8v7.8M547.4 2672.3h-7.8M547.4 2580.8h-7.8M547.4 2489.2h-7.8M547.4 2397.7h-7.8" fill="none" stroke="#333" stroke-width="2.3"/>
<g font-size="26.2" fill="#4D4D4D">
<text transform="translate(597.8 2720) scale(0.918 1)" text-anchor="middle">-1</text>
<text transform="translate(693 2720) scale(0.918 1)" text-anchor="middle">0</text>
<text transform="translate(788.2 2720) scale(0.918 1)" text-anchor="middle">1</text>
<text transform="translate(883.4 2720) scale(0.918 1)" text-anchor="middle">2</text>
<text transform="translate(533.9 2681.5) scale(0.918 1)" text-anchor="end">0</text>
<text transform="translate(533.9 2589.9) scale(0.918 1)" text-anchor="end">5</text>
<text transform="translate(533.9 2498.4) scale(0.918 1)" text-anchor="end">10</text>
<text transform="translate(533.9 2406.8) scale(0.918 1)" text-anchor="end">15</text>
</g>
<text transform="translate(724.2 2754.8) scale(0.943 1)" text-anchor="middle" font-size="32.1" fill="#000">Salivary Cortisol (log, pg/ml)</text>
<text transform="translate(492.6 2507.2) rotate(-90) scale(0.943 1)" text-anchor="middle" font-size="32.1" fill="#000">Tenderness</text>
</g>
<g>
<g fill="#FFA500">
<circle cx="1126.6" cy="2345.1" r="6.5"/>
<circle cx="1143.3" cy="2345.1" r="6.5"/>
<circle cx="1163" cy="2345.1" r="6.5"/>
<circle cx="1166.8" cy="2345.1" r="6.5"/>
<circle cx="1174.9" cy="2345.1" r="6.5"/>
<circle cx="1196.6" cy="2345.1" r="6.5"/>
<circle cx="1202" cy="2345.1" r="6.5"/>
<circle cx="1211.5" cy="2345.1" r="6.5"/>
<circle cx="1251.8" cy="2345.1" r="6.5"/>
<circle cx="1257.7" cy="2345.1" r="6.5"/>
<circle cx="1173.1" cy="2363.2" r="6.5"/>
<circle cx="1254.2" cy="2363.2" r="6.5"/>
<circle cx="1149" cy="2381.4" r="6.5"/>
<circle cx="1160" cy="2381.4" r="6.5"/>
<circle cx="1171.9" cy="2381.4" r="6.5"/>
<circle cx="1198.7" cy="2381.4" r="6.5"/>
<circle cx="1244.6" cy="2381.4" r="6.5"/>
<circle cx="1278" cy="2381.4" r="6.5"/>
<circle cx="1303.9" cy="2381.4" r="6.5"/>
<circle cx="1162.7" cy="2399.6" r="6.5"/>
<circle cx="1193.7" cy="2399.6" r="6.5"/>
<circle cx="1199" cy="2399.6" r="6.5"/>
<circle cx="1211.8" cy="2399.6" r="6.5"/>
<circle cx="1143.3" cy="2417.8" r="6.5"/>
<circle cx="1177.3" cy="2417.8" r="6.5"/>
<circle cx="1183.2" cy="2417.8" r="6.5"/>
<circle cx="1189.2" cy="2417.8" r="6.5"/>
<circle cx="1196.6" cy="2417.8" r="6.5"/>
<circle cx="1208.6" cy="2417.8" r="6.5"/>
<circle cx="1213.9" cy="2417.8" r="6.5"/>
<circle cx="1231.2" cy="2417.8" r="6.5"/>
<circle cx="1261.9" cy="2417.8" r="6.5"/>
<circle cx="1293.2" cy="2417.8" r="6.5"/>
<circle cx="1142.4" cy="2436" r="6.5"/>
<circle cx="1152.8" cy="2436" r="6.5"/>
<circle cx="1161.5" cy="2436" r="6.5"/>
<circle cx="1166.8" cy="2436" r="6.5"/>
<circle cx="1170.4" cy="2436" r="6.5"/>
<circle cx="1181.7" cy="2436" r="6.5"/>
<circle cx="1199" cy="2436" r="6.5"/>
<circle cx="1210.1" cy="2436" r="6.5"/>
<circle cx="1236.6" cy="2436" r="6.5"/>
<circle cx="1180.8" cy="2454.1" r="6.5"/>
<circle cx="1190.7" cy="2454.1" r="6.5"/>
<circle cx="1196.6" cy="2454.1" r="6.5"/>
<circle cx="1213.6" cy="2454.1" r="6.5"/>
<circle cx="1227.9" cy="2454.1" r="6.5"/>
<circle cx="1243.7" cy="2454.1" r="6.5"/>
<circle cx="1113.2" cy="2472.3" r="6.5"/>
<circle cx="1116.2" cy="2472.3" r="6.5"/>
<circle cx="1153.7" cy="2472.3" r="6.5"/>
<circle cx="1164.5" cy="2472.3" r="6.5"/>
<circle cx="1171.3" cy="2472.3" r="6.5"/>
<circle cx="1176.4" cy="2472.3" r="6.5"/>
<circle cx="1183.8" cy="2472.3" r="6.5"/>
<circle cx="1202" cy="2472.3" r="6.5"/>
<circle cx="1245.8" cy="2472.3" r="6.5"/>
<circle cx="1252.7" cy="2472.3" r="6.5"/>
<circle cx="1289.3" cy="2472.3" r="6.5"/>
<circle cx="1179.7" cy="2490.5" r="6.5"/>
<circle cx="1183.8" cy="2490.5" r="6.5"/>
<circle cx="1191.3" cy="2490.5" r="6.5"/>
<circle cx="1204.7" cy="2490.5" r="6.5"/>
<circle cx="1236.9" cy="2490.5" r="6.5"/>
<circle cx="1243.1" cy="2490.5" r="6.5"/>
<circle cx="1287.6" cy="2490.5" r="6.5"/>
<circle cx="1025.9" cy="2508.7" r="6.5"/>
<circle cx="1300.1" cy="2508.7" r="6.5"/>
<circle cx="1208.3" cy="2526.9" r="6.5"/>
<circle cx="1235.4" cy="2526.9" r="6.5"/>
<circle cx="1251.5" cy="2526.9" r="6.5"/>
<circle cx="1303.1" cy="2526.9" r="6.5"/>
<circle cx="1188.6" cy="2545" r="6.5"/>
<circle cx="1245.8" cy="2545" r="6.5"/>
<circle cx="1272.6" cy="2545" r="6.5"/>
<circle cx="1187.1" cy="2563.2" r="6.5"/>
<circle cx="1255.7" cy="2563.2" r="6.5"/>
<circle cx="1230.9" cy="2581.4" r="6.5"/>
<circle cx="1266.1" cy="2581.4" r="6.5"/>
<circle cx="1164.5" cy="2599.6" r="6.5"/>
<circle cx="1295" cy="2599.6" r="6.5"/>
<circle cx="1273.2" cy="2617.8" r="6.5"/>
<circle cx="1240.2" cy="2635.9" r="6.5"/>
<circle cx="1278" cy="2635.9" r="6.5"/>
<circle cx="1181.7" cy="2654.1" r="6.5"/>
<circle cx="1162.4" cy="2672.3" r="6.5"/>
<circle cx="1166.8" cy="2672.3" r="6.5"/>
<circle cx="1178.2" cy="2672.3" r="6.5"/>
<circle cx="1298.3" cy="2672.3" r="6.5"/>
</g>
<path d="M1025.9 2343.1 L1039.4 2351.6 L1052.9 2360.2 L1066.4 2368.6 L1079.8 2377.1 L1093.3 2385.4 L1106.8 2393.7 L1120.3 2401.9 L1133.8 2410 L1147.2 2417.8 L1160.7 2425.4 L1174.2 2432.4 L1187.7 2438.7 L1201.2 2444.1 L1214.7 2448.2 L1228.2 2451.2 L1241.6 2453.3 L1255.1 2454.7 L1268.6 2455.6 L1282.1 2456.3 L1295.6 2456.8 L1309 2457.2 L1322.5 2457.5 L1336 2457.7 L1349.5 2457.8 L1349.5 2556.6 L1336 2548.2 L1322.5 2539.8 L1309 2531.4 L1295.6 2523.2 L1282.1 2515.1 L1268.6 2507.2 L1255.1 2499.6 L1241.6 2492.4 L1228.2 2485.9 L1214.7 2480.3 L1201.2 2475.8 L1187.7 2472.6 L1174.2 2470.3 L1160.7 2468.8 L1147.2 2467.7 L1133.8 2466.9 L1120.3 2466.4 L1106.8 2466 L1093.3 2465.7 L1079.8 2465.5 L1066.4 2465.3 L1052.9 2465.2 L1039.4 2465.2 L1025.9 2465.1Z" fill="#999" fill-opacity="0.4"/>
<line x1="1025.9" y1="2404.1" x2="1349.5" y2="2507.2" stroke="#000" stroke-width="5.8"/>
<path d="M1009.6 2325.4V2688.8H1365.6" fill="none" stroke="#000" stroke-width="3.0" stroke-linejoin="round"/>
<path d="M1024.3 2688.8v7.8M1124.5 2688.8v7.8M1224.7 2688.8v7.8M1324.9 2688.8v7.8M1009.6 2672.3h-7.8M1009.6 2581.4h-7.8M1009.6 2490.5h-7.8M1009.6 2399.6h-7.8" fill="none" stroke="#333" stroke-width="2.3"/>
<g font-size="26.2" fill="#4D4D4D">
<text transform="translate(1024.3 2720) scale(0.918 1)" text-anchor="middle">-2</text>
<text transform="translate(1124.5 2720) scale(0.918 1)" text-anchor="middle">0</text>
<text transform="translate(1224.7 2720) scale(0.918 1)" text-anchor="middle">2</text>
<text transform="translate(1324.9 2720) scale(0.918 1)" text-anchor="middle">4</text>
<text transform="translate(996.1 2681.5) scale(0.918 1)" text-anchor="end">0</text>
<text transform="translate(996.1 2590.6) scale(0.918 1)" text-anchor="end">5</text>
<text transform="translate(996.1 2499.7) scale(0.918 1)" text-anchor="end">10</text>
<text transform="translate(996.1 2408.8) scale(0.918 1)" text-anchor="end">15</text>
</g>
<text transform="translate(1183.8 2754.8) scale(0.943 1)" text-anchor="middle" font-size="32.1" fill="#000">Hair Cortisol (log, pg/mg)</text>
<text transform="translate(956.5 2507.2) rotate(-90) scale(0.943 1)" text-anchor="middle" font-size="32.1" fill="#000">Tenderness</text>
</g>
<text x="1.5" y="35.8" font-size="47" font-weight="bold" fill="#000">a</text>
<text x="464.5" y="35.8" font-size="47" font-weight="bold" fill="#000">b</text>
<text x="926" y="35.8" font-size="47" font-weight="bold" fill="#000">c</text>
</svg>
</body>
</html>
